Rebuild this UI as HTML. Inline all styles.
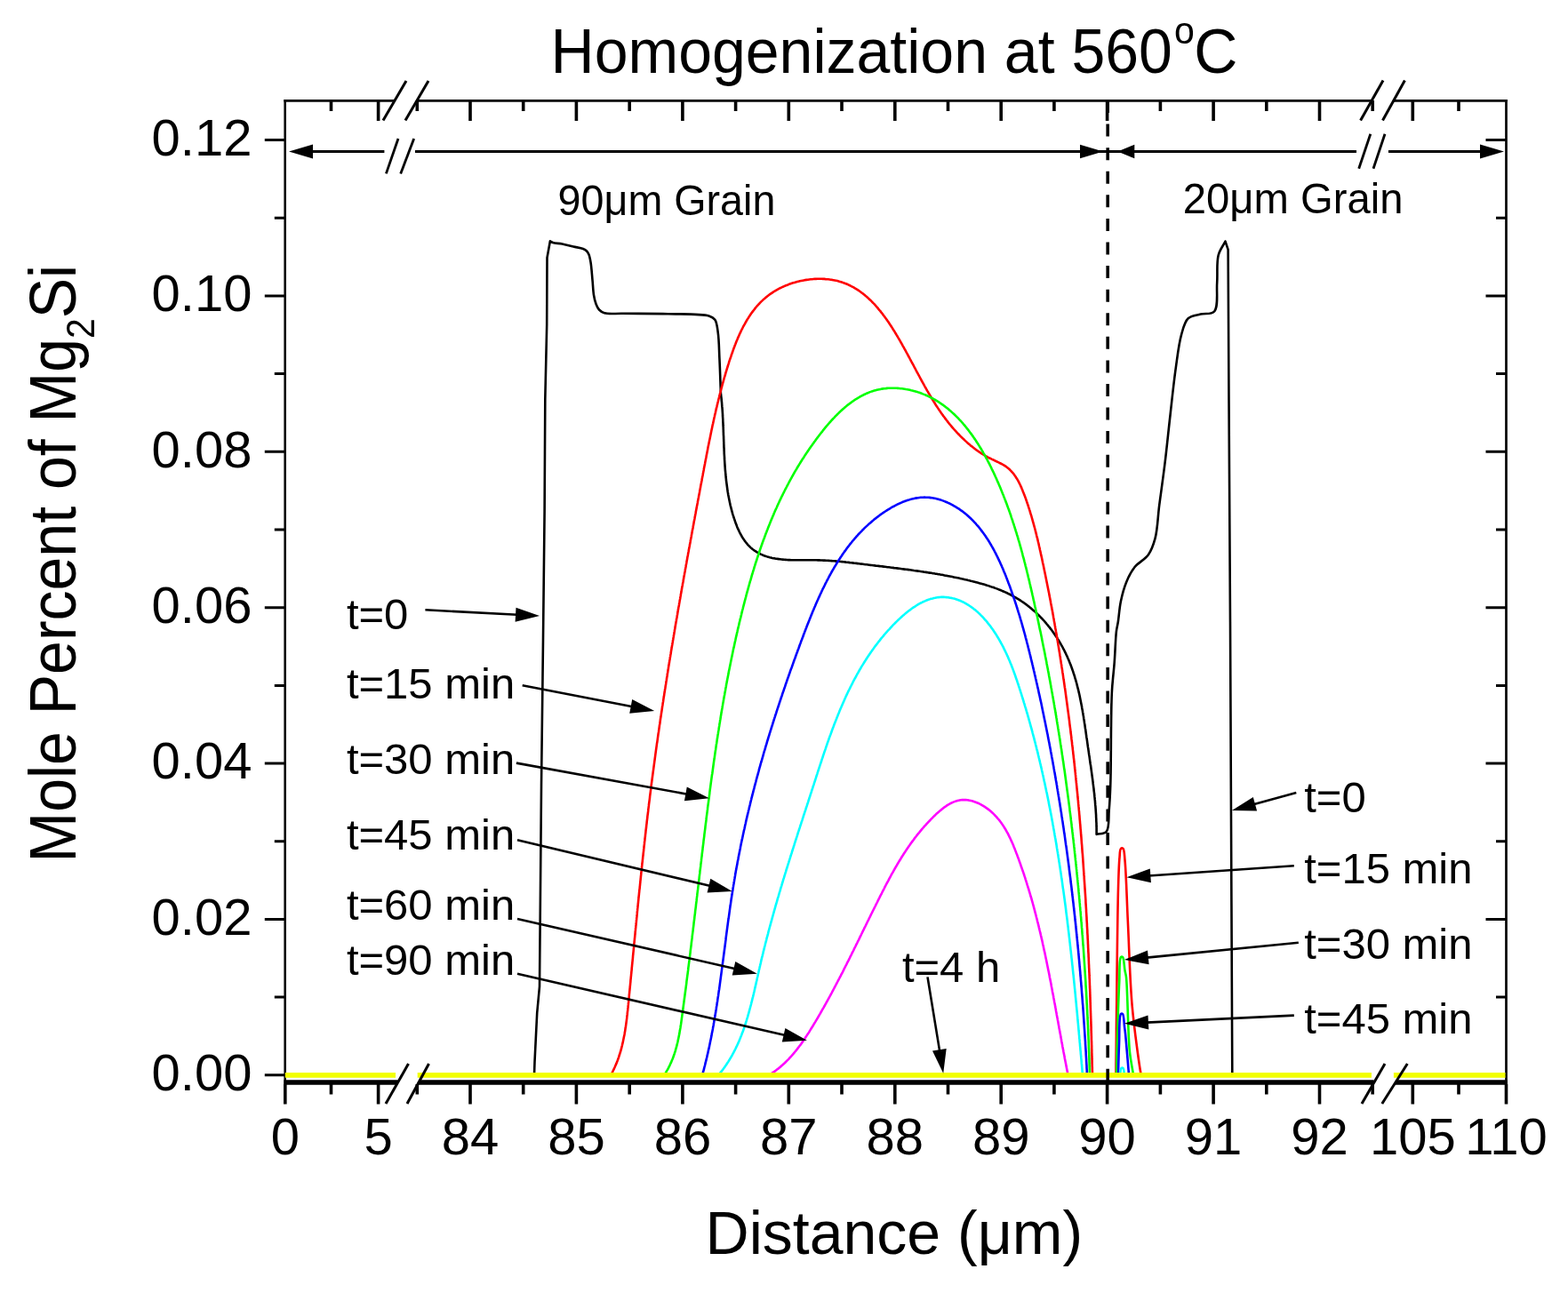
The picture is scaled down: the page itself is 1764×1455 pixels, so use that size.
<!DOCTYPE html>
<html><head><meta charset="utf-8"><title>Homogenization at 560°C</title>
<style>html,body{margin:0;padding:0;background:#fff;width:1764px;height:1455px;overflow:hidden}</style>
</head><body>
<svg width="1764" height="1455" viewBox="0 0 1764 1455" style="display:block">
<rect x="0" y="0" width="1764" height="1455" fill="#ffffff"/>
<g fill="none" stroke-linejoin="round" stroke-linecap="round" stroke-width="2.6">
<path d="M601.0,1210.0 L601.5,1195.0 L604.2,1140.0 L607.0,1110.0 L609.0,884.6 L611.0,720.0 L612.6,575.8 L613.3,449.5 L615.2,365.0 L615.5,290.0 L618.9,271.3 M618.9,271.3 C619.9,271.9 620.5,272.5 621.9,273.0 C624.3,273.8 628.8,273.8 632.5,274.5 C636.5,275.3 641.0,276.6 645.0,277.5 C648.8,278.4 653.3,278.9 656.0,280.0 C657.7,280.7 658.9,281.4 660.0,282.5 C661.1,283.6 661.8,284.8 662.5,286.5 C663.4,288.7 663.9,291.5 664.5,295.0 C665.4,300.2 665.9,308.6 666.5,315.0 C667.1,320.9 667.2,327.1 668.0,332.0 C668.6,335.8 669.4,339.1 670.5,342.0 C671.5,344.5 672.4,346.8 674.0,348.5 C675.6,350.2 677.3,351.5 680.0,352.3 C684.6,353.7 691.8,352.7 700.0,352.8 C713.2,353.0 734.9,352.7 751.6,353.2 C767.4,353.7 789.2,352.9 797.5,355.5 C801.0,356.6 802.6,357.4 804.3,359.7 C806.6,362.8 806.9,368.4 807.7,374.1 C808.9,382.0 808.9,392.6 809.4,403.0 C810.0,415.1 810.4,429.3 810.9,442.4 M810.9,442.4 L811.1,443.9 L811.2,445.3 L811.4,446.8 L811.6,448.3 L811.7,449.8 L811.8,451.3 L812.0,452.7 L812.1,454.2 L812.2,455.7 L812.3,457.2 L812.5,458.7 L812.6,460.2 L812.7,461.7 L812.8,463.2 L812.9,464.7 L813.0,466.2 L813.0,467.7 L813.1,469.2 L813.2,470.7 L813.3,472.2 L813.3,473.7 L813.4,475.2 L813.5,476.7 L813.5,478.2 L813.6,479.7 L813.7,481.2 L813.7,482.7 L813.8,484.2 L813.8,485.7 L813.9,487.2 L813.9,488.7 L814.0,490.2 L814.1,491.7 L814.1,493.2 L814.2,494.8 L814.2,496.3 L814.3,497.8 L814.3,499.3 L814.4,500.8 L814.4,502.3 L814.5,503.8 L814.6,505.3 L814.6,506.9 L814.7,508.4 L814.7,509.9 L814.8,511.4 L814.9,512.9 L815.0,514.4 L815.0,515.9 L815.1,517.4 L815.2,518.9 L815.3,520.5 L815.4,522.0 L815.5,523.5 L815.6,525.0 L815.7,526.5 L815.8,528.0 L815.9,529.5 L816.1,531.0 L816.2,532.5 L816.3,534.0 L816.5,535.5 L816.6,537.0 L816.8,538.5 L816.9,540.0 L817.1,541.5 L817.3,543.0 L817.5,544.5 L817.7,546.0 L817.9,547.5 L818.1,549.0 L818.3,550.5 L818.5,552.0 L818.7,553.5 L819.0,555.0 L819.2,556.5 L819.5,558.0 L819.8,559.4 L820.1,560.9 L820.4,562.4 L820.7,563.9 L821.0,565.4 L821.3,566.8 L821.6,568.3 L822.0,569.8 L822.4,571.3 L822.7,572.7 L823.1,574.2 L823.5,575.7 L823.9,577.1 L824.3,578.6 L824.8,580.0 L825.2,581.5 L825.7,582.9 L826.2,584.4 L826.7,585.8 L827.2,587.3 L827.7,588.7 L828.2,590.1 L828.8,591.6 L829.3,593.0 L829.9,594.4 L830.5,595.7 L831.2,597.1 L831.8,598.5 L832.5,599.8 L833.2,601.1 L833.9,602.4 L834.6,603.7 L835.4,605.0 L836.2,606.2 L837.0,607.4 L837.8,608.6 L838.7,609.8 L839.6,610.9 L840.5,612.0 L841.4,613.1 L842.4,614.1 L843.4,615.1 L844.4,616.1 L845.5,617.1 L846.6,618.0 L847.7,618.8 L848.9,619.7 L850.1,620.4 L851.3,621.2 L852.5,621.9 L853.8,622.6 L855.0,623.2 L856.3,623.9 L857.6,624.4 L859.0,625.0 L860.3,625.5 L861.7,625.9 L863.1,626.4 L864.5,626.8 L865.9,627.2 L867.3,627.5 L868.8,627.9 L870.2,628.2 L871.7,628.4 L873.2,628.7 L874.7,628.9 L876.2,629.1 L877.7,629.3 L879.2,629.5 L880.7,629.6 L882.3,629.8 L883.8,629.9 L885.4,630.0 L886.9,630.1 L888.5,630.1 L890.1,630.2 L891.7,630.2 L893.2,630.3 L894.8,630.3 L896.4,630.3 L898.0,630.3 L899.6,630.3 L901.2,630.3 L902.8,630.3 L904.4,630.3 L906.0,630.3 L907.6,630.3 L909.2,630.3 L910.7,630.3 L912.3,630.3 L913.9,630.3 L915.5,630.3 L917.1,630.3 L918.6,630.3 L920.2,630.4 L921.7,630.4 L923.3,630.5 L924.8,630.5 L926.4,630.6 L927.9,630.6 L929.4,630.7 L930.9,630.8 L932.4,630.9 L933.9,631.0 L935.4,631.1 L936.9,631.2 L938.4,631.3 L939.9,631.4 L941.4,631.6 L942.9,631.7 L944.4,631.8 L945.9,632.0 L947.3,632.1 L948.8,632.3 L950.3,632.4 L951.7,632.6 L953.2,632.7 L954.7,632.9 L956.1,633.1 L957.6,633.2 L959.0,633.4 L960.5,633.6 L961.9,633.7 L963.4,633.9 L964.9,634.1 L966.3,634.3 L967.8,634.5 L969.2,634.6 L970.7,634.8 L972.1,635.0 L973.6,635.2 L975.1,635.3 L976.5,635.5 L978.0,635.7 L979.4,635.9 L980.9,636.0 L982.4,636.2 L983.8,636.4 L985.3,636.6 L986.8,636.7 L988.2,636.9 L989.7,637.1 L991.2,637.3 L992.7,637.4 L994.1,637.6 L995.6,637.8 L997.1,638.0 L998.6,638.2 L1000.0,638.3 L1001.5,638.5 L1003.0,638.7 L1004.5,638.9 L1006.0,639.1 L1007.4,639.2 L1008.9,639.4 L1010.4,639.6 L1011.9,639.8 L1013.4,640.0 L1014.8,640.2 L1016.3,640.4 L1017.8,640.6 L1019.3,640.8 L1020.8,640.9 L1022.3,641.1 L1023.7,641.3 L1025.2,641.5 L1026.7,641.7 L1028.2,642.0 L1029.7,642.2 L1031.2,642.4 L1032.7,642.6 L1034.2,642.8 L1035.6,643.0 L1037.1,643.2 L1038.6,643.4 L1040.1,643.7 L1041.6,643.9 L1043.1,644.1 L1044.6,644.4 L1046.1,644.6 L1047.6,644.8 L1049.0,645.1 L1050.5,645.3 L1052.0,645.6 L1053.5,645.8 L1055.0,646.1 L1056.5,646.3 L1058.0,646.6 L1059.5,646.8 L1061.0,647.1 L1062.4,647.4 L1063.9,647.7 L1065.4,647.9 L1066.9,648.2 L1068.4,648.5 L1069.9,648.8 L1071.4,649.1 L1072.8,649.4 L1074.3,649.7 L1075.8,650.0 L1077.3,650.3 L1078.8,650.6 L1080.3,650.9 L1081.8,651.3 L1083.2,651.6 L1084.7,651.9 L1086.2,652.3 L1087.7,652.6 L1089.2,653.0 L1090.6,653.3 L1092.1,653.7 L1093.6,654.0 L1095.1,654.4 L1096.5,654.8 L1098.0,655.2 L1099.5,655.6 L1101.0,656.0 L1102.4,656.4 L1103.9,656.8 L1105.4,657.2 L1106.8,657.6 L1108.3,658.0 L1109.7,658.5 L1111.2,658.9 L1112.6,659.4 L1114.1,659.9 L1115.5,660.4 L1116.9,660.8 L1118.3,661.3 L1119.8,661.9 L1121.2,662.4 L1122.6,662.9 L1124.0,663.5 L1125.4,664.0 L1126.8,664.6 L1128.2,665.2 L1129.5,665.8 L1130.9,666.4 L1132.3,667.0 L1133.6,667.7 L1135.0,668.3 L1136.3,669.0 L1137.6,669.7 L1138.9,670.3 L1140.2,671.1 L1141.5,671.8 L1142.8,672.5 L1144.1,673.3 L1145.4,674.1 L1146.7,674.9 L1147.9,675.7 L1149.1,676.5 L1150.4,677.3 L1151.6,678.2 L1152.8,679.0 L1154.0,679.9 L1155.2,680.8 L1156.4,681.7 L1157.6,682.6 L1158.7,683.6 L1159.9,684.5 L1161.0,685.5 L1162.1,686.4 L1163.3,687.4 L1164.4,688.4 L1165.5,689.4 L1166.6,690.5 L1167.6,691.5 L1168.7,692.5 L1169.8,693.6 L1170.8,694.7 L1171.9,695.7 L1172.9,696.8 L1173.9,697.9 L1174.9,699.0 L1175.9,700.2 L1176.9,701.3 L1177.8,702.5 L1178.8,703.6 L1179.7,704.8 L1180.7,705.9 L1181.6,707.1 L1182.5,708.3 L1183.4,709.5 L1184.3,710.7 L1185.2,712.0 L1186.0,713.2 L1186.9,714.4 L1187.7,715.7 L1188.6,716.9 L1189.4,718.2 L1190.2,719.5 L1191.0,720.7 L1191.8,722.0 L1192.5,723.3 L1193.3,724.6 L1194.0,725.9 L1194.8,727.2 L1195.5,728.5 L1196.2,729.9 L1196.9,731.2 L1197.6,732.5 L1198.2,733.9 L1198.9,735.2 L1199.5,736.6 L1200.2,737.9 L1200.8,739.3 L1201.4,740.7 L1202.0,742.0 L1202.6,743.4 L1203.1,744.8 L1203.7,746.2 L1204.2,747.6 L1204.8,749.0 L1205.3,750.4 L1205.8,751.8 L1206.3,753.2 L1206.8,754.6 L1207.3,756.0 L1207.7,757.5 L1208.2,758.9 L1208.7,760.3 L1209.1,761.7 L1209.5,763.2 L1210.0,764.6 L1210.4,766.1 L1210.8,767.5 L1211.2,769.0 L1211.6,770.4 L1211.9,771.9 L1212.3,773.3 L1212.7,774.8 L1213.0,776.2 L1213.4,777.7 L1213.7,779.2 L1214.1,780.7 L1214.4,782.1 L1214.7,783.6 L1215.0,785.1 L1215.3,786.6 L1215.6,788.0 L1215.9,789.5 L1216.2,791.0 L1216.5,792.5 L1216.8,794.0 L1217.1,795.5 L1217.3,797.0 L1217.6,798.5 L1217.9,800.0 L1218.1,801.5 L1218.4,803.0 L1218.6,804.4 L1218.9,805.9 L1219.1,807.4 L1219.3,808.9 L1219.6,810.4 L1219.8,811.9 L1220.0,813.4 L1220.3,814.9 L1220.5,816.4 L1220.7,817.9 L1220.9,819.5 L1221.2,821.0 L1221.4,822.5 L1221.6,824.0 L1221.8,825.5 L1222.0,827.0 L1222.2,828.5 L1222.4,830.0 L1222.7,831.5 L1222.9,832.9 L1223.1,834.4 L1223.3,835.9 L1223.5,837.4 L1223.7,838.9 L1223.9,840.4 L1224.2,841.9 L1224.4,843.4 L1224.6,844.9 L1224.8,846.4 L1225.0,847.9 L1225.2,849.3 L1225.5,850.8 L1225.7,852.3 L1225.9,853.8 L1226.1,855.3 L1226.3,856.8 L1226.5,858.2 L1226.7,859.7 L1227.0,861.2 L1227.2,862.7 L1227.4,864.2 L1227.6,865.6 L1227.8,867.1 L1228.0,868.6 L1228.2,870.1 L1228.4,871.6 L1228.6,873.0 L1228.8,874.5 L1229.0,876.0 L1229.2,877.5 L1229.4,879.0 L1229.6,880.4 L1229.7,881.9 L1229.9,883.4 L1230.1,884.9 L1230.3,886.4 L1230.5,887.8 L1230.6,889.3 L1230.8,890.8 L1231.0,892.3 L1231.1,893.8 L1231.3,895.2 L1231.4,896.7 L1231.6,898.2 L1231.7,899.7 L1231.9,901.2 L1232.0,902.7 L1232.1,904.2 L1232.2,905.7 L1232.4,907.1 L1232.5,908.6 L1232.6,910.1 L1232.7,911.6 L1232.8,913.1 L1232.9,914.6 L1233.0,916.1 L1233.1,917.6 L1233.1,919.1 L1233.2,920.6 L1233.3,922.1 L1233.3,923.6 L1233.4,925.1 L1233.5,926.6 L1233.5,928.2 L1233.5,929.7 L1233.6,931.2 L1233.6,932.7 L1233.6,934.2 L1233.6,935.8 L1233.6,937.3 L1233.6,938.8 M1233.6,938.8 C1237.3,937.8 1242.2,938.6 1244.7,935.8 C1248.3,931.7 1246.9,920.1 1247.7,911.6 C1248.5,902.2 1248.9,894.7 1249.3,881.8 C1250.1,858.0 1249.6,805.0 1250.8,780.0 C1251.5,765.4 1252.9,757.1 1253.7,745.5 C1254.6,733.8 1254.9,718.5 1255.9,710.3 C1256.5,705.8 1257.1,704.1 1257.8,700.0 C1258.8,693.8 1259.3,684.3 1260.9,676.8 C1262.4,669.4 1264.4,661.8 1267.1,655.2 C1269.6,649.0 1272.4,643.3 1276.4,638.2 C1280.6,632.9 1288.0,629.8 1291.9,624.3 C1295.7,618.9 1297.6,613.1 1299.6,605.7 C1302.3,595.6 1302.5,581.7 1304.2,568.6 C1306.1,554.0 1308.4,538.4 1310.4,522.2 C1312.6,504.5 1314.5,484.8 1316.6,466.5 C1318.6,448.7 1320.5,429.9 1322.8,413.9 C1324.7,400.4 1326.1,386.9 1329.0,376.8 C1331.1,369.4 1332.6,362.1 1336.7,358.3 C1340.2,355.0 1345.8,354.9 1350.6,353.6 C1355.6,352.3 1362.8,354.2 1366.1,350.5 C1370.9,345.2 1368.4,328.7 1369.2,318.0 C1369.9,307.6 1368.5,295.4 1370.7,287.1 C1372.3,280.9 1375.9,276.8 1378.5,271.7 M1378.5,271.7 L1381.6,280.9 L1382.5,450.0 L1384.0,700.0 L1386.3,1210.0" stroke="#000"/>
<path d="M687.0,1210.0 L687.8,1208.7 L688.5,1207.4 L689.2,1206.0 L689.8,1204.7 L690.5,1203.4 L691.1,1202.0 L691.7,1200.7 L692.3,1199.3 L692.9,1197.9 L693.5,1196.6 L694.0,1195.2 L694.6,1193.8 L695.1,1192.4 L695.6,1191.0 L696.1,1189.6 L696.5,1188.2 L697.0,1186.8 L697.4,1185.4 L697.9,1184.0 L698.3,1182.6 L698.7,1181.1 L699.1,1179.7 L699.4,1178.3 L699.8,1176.8 L700.1,1175.4 L700.5,1173.9 L700.8,1172.5 L701.1,1171.0 L701.4,1169.6 L701.7,1168.1 L702.0,1166.6 L702.3,1165.2 L702.6,1163.7 L702.8,1162.2 L703.1,1160.8 L703.3,1159.3 L703.5,1157.8 L703.8,1156.3 L704.0,1154.8 L704.2,1153.3 L704.4,1151.9 L704.6,1150.4 L704.8,1148.9 L705.0,1147.4 L705.2,1145.9 L705.3,1144.4 L705.5,1142.9 L705.7,1141.4 L705.8,1139.9 L706.0,1138.4 L706.2,1136.9 L706.3,1135.4 L706.5,1133.9 L706.6,1132.4 L706.8,1130.9 L706.9,1129.4 L707.1,1127.9 L707.2,1126.3 L707.4,1124.8 L707.5,1123.3 L707.7,1121.8 L707.8,1120.3 L707.9,1118.8 L708.1,1117.3 L708.2,1115.8 L708.4,1114.3 L708.5,1112.8 L708.7,1111.3 L708.8,1109.8 L709.0,1108.3 L709.1,1106.8 L709.3,1105.3 L709.4,1103.8 L709.5,1102.3 L709.7,1100.8 L709.8,1099.3 L710.0,1097.8 L710.1,1096.3 L710.3,1094.8 L710.4,1093.3 L710.6,1091.8 L710.7,1090.3 L710.8,1088.8 L711.0,1087.3 L711.1,1085.8 L711.3,1084.3 L711.4,1082.8 L711.6,1081.3 L711.7,1079.8 L711.9,1078.3 L712.0,1076.8 L712.1,1075.3 L712.3,1073.8 L712.4,1072.3 L712.6,1070.8 L712.7,1069.3 L712.9,1067.8 L713.0,1066.3 L713.2,1064.8 L713.3,1063.3 L713.4,1061.8 L713.6,1060.3 L713.7,1058.8 L713.9,1057.3 L714.0,1055.8 L714.2,1054.3 L714.3,1052.8 L714.5,1051.3 L714.6,1049.8 L714.7,1048.3 L714.9,1046.9 L715.0,1045.4 L715.2,1043.9 L715.3,1042.4 L715.5,1040.9 L715.6,1039.4 L715.8,1037.9 L715.9,1036.4 L716.1,1034.9 L716.2,1033.4 L716.4,1031.9 L716.5,1030.4 L716.7,1028.9 L716.8,1027.4 L716.9,1025.9 L717.1,1024.4 L717.2,1022.9 L717.4,1021.4 L717.5,1020.0 L717.7,1018.5 L717.8,1017.0 L718.0,1015.5 L718.1,1014.0 L718.3,1012.5 L718.4,1011.0 L718.6,1009.5 L718.7,1008.0 L718.9,1006.5 L719.0,1005.0 L719.2,1003.5 L719.3,1002.0 L719.5,1000.6 L719.7,999.1 L719.8,997.6 L720.0,996.1 L720.1,994.6 L720.3,993.1 L720.4,991.6 L720.6,990.1 L720.7,988.6 L720.9,987.1 L721.0,985.6 L721.2,984.2 L721.3,982.7 L721.5,981.2 L721.7,979.7 L721.8,978.2 L722.0,976.7 L722.1,975.2 L722.3,973.7 L722.4,972.2 L722.6,970.7 L722.8,969.3 L722.9,967.8 L723.1,966.3 L723.2,964.8 L723.4,963.3 L723.6,961.8 L723.7,960.3 L723.9,958.8 L724.1,957.3 L724.2,955.8 L724.4,954.4 L724.5,952.9 L724.7,951.4 L724.9,949.9 L725.0,948.4 L725.2,946.9 L725.4,945.4 L725.5,943.9 L725.7,942.4 L725.9,941.0 L726.0,939.5 L726.2,938.0 L726.4,936.5 L726.5,935.0 L726.7,933.5 L726.9,932.0 L727.1,930.5 L727.2,929.1 L727.4,927.6 L727.6,926.1 L727.7,924.6 L727.9,923.1 L728.1,921.6 L728.3,920.1 L728.4,918.6 L728.6,917.1 L728.8,915.7 L729.0,914.2 L729.2,912.7 L729.3,911.2 L729.5,909.7 L729.7,908.2 L729.9,906.7 L730.0,905.2 L730.2,903.8 L730.4,902.3 L730.6,900.8 L730.8,899.3 L731.0,897.8 L731.1,896.3 L731.3,894.8 L731.5,893.3 L731.7,891.9 L731.9,890.4 L732.1,888.9 L732.3,887.4 L732.5,885.9 L732.6,884.4 L732.8,882.9 L733.0,881.4 L733.2,880.0 L733.4,878.5 L733.6,877.0 L733.8,875.5 L734.0,874.0 L734.2,872.5 L734.4,871.0 L734.6,869.5 L734.8,868.0 L735.0,866.6 L735.2,865.1 L735.4,863.6 L735.6,862.1 L735.8,860.6 L736.0,859.1 L736.2,857.6 L736.4,856.1 L736.6,854.7 L736.8,853.2 L737.0,851.7 L737.2,850.2 L737.4,848.7 L737.6,847.2 L737.8,845.7 L738.0,844.2 L738.2,842.8 L738.4,841.3 L738.6,839.8 L738.8,838.3 L739.0,836.8 L739.3,835.3 L739.5,833.8 L739.7,832.3 L739.9,830.9 L740.1,829.4 L740.3,827.9 L740.5,826.4 L740.7,824.9 L741.0,823.4 L741.2,821.9 L741.4,820.4 L741.6,819.0 L741.8,817.5 L742.0,816.0 L742.3,814.5 L742.5,813.0 L742.7,811.5 L742.9,810.0 L743.1,808.5 L743.4,807.1 L743.6,805.6 L743.8,804.1 L744.0,802.6 L744.3,801.1 L744.5,799.6 L744.7,798.1 L744.9,796.7 L745.1,795.2 L745.4,793.7 L745.6,792.2 L745.8,790.7 L746.1,789.2 L746.3,787.7 L746.5,786.2 L746.7,784.8 L747.0,783.3 L747.2,781.8 L747.4,780.3 L747.7,778.8 L747.9,777.3 L748.1,775.8 L748.4,774.4 L748.6,772.9 L748.8,771.4 L749.1,769.9 L749.3,768.4 L749.5,766.9 L749.8,765.4 L750.0,764.0 L750.2,762.5 L750.5,761.0 L750.7,759.5 L750.9,758.0 L751.2,756.5 L751.4,755.0 L751.7,753.6 L751.9,752.1 L752.1,750.6 L752.4,749.1 L752.6,747.6 L752.9,746.1 L753.1,744.6 L753.3,743.2 L753.6,741.7 L753.8,740.2 L754.1,738.7 L754.3,737.2 L754.6,735.7 L754.8,734.3 L755.0,732.8 L755.3,731.3 L755.5,729.8 L755.8,728.3 L756.0,726.8 L756.3,725.4 L756.5,723.9 L756.8,722.4 L757.0,720.9 L757.3,719.4 L757.5,717.9 L757.8,716.4 L758.0,715.0 L758.3,713.5 L758.5,712.0 L758.8,710.5 L759.0,709.0 L759.3,707.5 L759.5,706.1 L759.8,704.6 L760.0,703.1 L760.3,701.6 L760.5,700.1 L760.8,698.7 L761.0,697.2 L761.3,695.7 L761.6,694.2 L761.8,692.7 L762.1,691.2 L762.3,689.8 L762.6,688.3 L762.8,686.8 L763.1,685.3 L763.3,683.8 L763.6,682.4 L763.9,680.9 L764.1,679.4 L764.4,677.9 L764.6,676.4 L764.9,675.0 L765.2,673.5 L765.4,672.0 L765.7,670.5 L765.9,669.0 L766.2,667.5 L766.5,666.1 L766.7,664.6 L767.0,663.1 L767.2,661.6 L767.5,660.1 L767.8,658.7 L768.0,657.2 L768.3,655.7 L768.6,654.2 L768.8,652.8 L769.1,651.3 L769.3,649.8 L769.6,648.3 L769.9,646.8 L770.1,645.4 L770.4,643.9 L770.7,642.4 L770.9,640.9 L771.2,639.4 L771.5,638.0 L771.7,636.5 L772.0,635.0 L772.3,633.5 L772.5,632.1 L772.8,630.6 L773.1,629.1 L773.3,627.6 L773.6,626.1 L773.9,624.7 L774.1,623.2 L774.4,621.7 L774.7,620.2 L774.9,618.8 L775.2,617.3 L775.5,615.8 L775.8,614.3 L776.0,612.9 L776.3,611.4 L776.6,609.9 L776.8,608.4 L777.1,607.0 L777.4,605.5 L777.7,604.0 L777.9,602.5 L778.2,601.1 L778.5,599.6 L778.7,598.1 L779.0,596.6 L779.3,595.2 L779.6,593.7 L779.8,592.2 L780.1,590.7 L780.4,589.3 L780.6,587.8 L780.9,586.3 L781.2,584.9 L781.5,583.4 L781.7,581.9 L782.0,580.4 L782.3,579.0 L782.6,577.5 L782.8,576.0 L783.1,574.5 L783.4,573.1 L783.7,571.6 L783.9,570.1 L784.2,568.7 L784.5,567.2 L784.8,565.7 L785.0,564.2 L785.3,562.8 L785.6,561.3 L785.9,559.8 L786.1,558.4 L786.4,556.9 L786.7,555.4 L787.0,554.0 L787.2,552.5 L787.5,551.0 L787.8,549.6 L788.1,548.1 L788.3,546.6 L788.6,545.1 L788.9,543.7 L789.2,542.2 L789.5,540.7 L789.7,539.3 L790.0,537.8 L790.3,536.3 L790.6,534.9 L790.8,533.4 L791.1,531.9 L791.4,530.5 L791.7,529.0 L791.9,527.5 L792.2,526.1 L792.5,524.6 L792.8,523.1 L793.1,521.7 L793.3,520.2 L793.6,518.7 L793.9,517.3 L794.2,515.8 L794.5,514.3 L794.7,512.9 L795.0,511.4 L795.3,510.0 L795.6,508.5 L795.9,507.0 L796.2,505.6 L796.4,504.1 L796.7,502.6 L797.0,501.2 L797.3,499.7 L797.6,498.2 L797.9,496.8 L798.2,495.3 L798.5,493.9 L798.8,492.4 L799.1,490.9 L799.4,489.5 L799.7,488.0 L800.0,486.5 L800.3,485.1 L800.6,483.6 L800.9,482.2 L801.2,480.7 L801.5,479.2 L801.8,477.8 L802.2,476.3 L802.5,474.8 L802.8,473.4 L803.1,471.9 L803.4,470.5 L803.8,469.0 L804.1,467.5 L804.4,466.1 L804.8,464.6 L805.1,463.2 L805.4,461.7 L805.8,460.2 L806.1,458.8 L806.5,457.3 L806.8,455.9 L807.2,454.4 L807.5,452.9 L807.9,451.5 L808.2,450.0 L808.6,448.6 L809.0,447.1 L809.3,445.6 L809.7,444.2 L810.1,442.7 L810.5,441.3 L810.8,439.8 L811.2,438.3 L811.6,436.9 L812.0,435.4 L812.4,434.0 L812.8,432.5 L813.2,431.0 L813.6,429.6 L814.0,428.1 L814.4,426.6 L814.8,425.2 L815.3,423.7 L815.7,422.3 L816.1,420.8 L816.5,419.3 L817.0,417.9 L817.4,416.4 L817.9,415.0 L818.3,413.5 L818.8,412.0 L819.2,410.6 L819.7,409.1 L820.1,407.7 L820.6,406.2 L821.1,404.7 L821.6,403.3 L822.1,401.8 L822.6,400.4 L823.0,398.9 L823.6,397.5 L824.1,396.0 L824.6,394.6 L825.1,393.1 L825.6,391.7 L826.2,390.2 L826.7,388.8 L827.3,387.4 L827.8,386.0 L828.4,384.5 L829.0,383.1 L829.6,381.7 L830.1,380.3 L830.8,378.9 L831.4,377.5 L832.0,376.1 L832.6,374.8 L833.3,373.4 L833.9,372.0 L834.6,370.7 L835.3,369.3 L835.9,368.0 L836.6,366.7 L837.4,365.4 L838.1,364.1 L838.8,362.8 L839.6,361.5 L840.3,360.2 L841.1,358.9 L841.9,357.7 L842.7,356.4 L843.5,355.2 L844.3,354.0 L845.1,352.8 L846.0,351.6 L846.9,350.4 L847.8,349.2 L848.7,348.1 L849.6,346.9 L850.5,345.8 L851.4,344.7 L852.4,343.6 L853.4,342.5 L854.4,341.5 L855.4,340.4 L856.4,339.4 L857.5,338.4 L858.5,337.4 L859.6,336.4 L860.7,335.5 L861.8,334.5 L863.0,333.6 L864.1,332.7 L865.3,331.8 L866.5,330.9 L867.7,330.1 L868.9,329.3 L870.2,328.4 L871.5,327.7 L872.8,326.9 L874.1,326.1 L875.4,325.4 L876.7,324.7 L878.1,324.0 L879.4,323.4 L880.8,322.7 L882.2,322.1 L883.6,321.5 L885.0,320.9 L886.5,320.4 L887.9,319.8 L889.4,319.3 L890.8,318.8 L892.3,318.3 L893.8,317.9 L895.3,317.5 L896.8,317.1 L898.3,316.7 L899.8,316.3 L901.3,316.0 L902.8,315.7 L904.3,315.4 L905.8,315.1 L907.4,314.9 L908.9,314.7 L910.4,314.5 L912.0,314.3 L913.5,314.2 L915.0,314.0 L916.6,313.9 L918.1,313.9 L919.6,313.8 L921.2,313.8 L922.7,313.8 L924.2,313.8 L925.7,313.9 L927.2,313.9 L928.8,314.1 L930.3,314.2 L931.8,314.3 L933.2,314.5 L934.7,314.7 L936.2,314.9 L937.7,315.2 L939.1,315.5 L940.6,315.8 L942.0,316.1 L943.4,316.5 L944.8,316.9 L946.2,317.3 L947.6,317.8 L949.0,318.2 L950.3,318.7 L951.7,319.2 L953.0,319.8 L954.3,320.4 L955.6,321.0 L956.9,321.6 L958.2,322.3 L959.4,322.9 L960.7,323.6 L961.9,324.4 L963.1,325.1 L964.4,325.9 L965.6,326.7 L966.8,327.5 L967.9,328.3 L969.1,329.2 L970.2,330.0 L971.4,330.9 L972.5,331.8 L973.6,332.8 L974.8,333.7 L975.9,334.7 L976.9,335.7 L978.0,336.7 L979.1,337.7 L980.1,338.7 L981.2,339.8 L982.2,340.9 L983.3,341.9 L984.3,343.0 L985.3,344.2 L986.3,345.3 L987.3,346.4 L988.2,347.6 L989.2,348.8 L990.2,349.9 L991.1,351.1 L992.1,352.3 L993.0,353.5 L993.9,354.8 L994.9,356.0 L995.8,357.3 L996.7,358.5 L997.6,359.8 L998.5,361.1 L999.4,362.3 L1000.2,363.6 L1001.1,364.9 L1002.0,366.2 L1002.8,367.5 L1003.7,368.9 L1004.5,370.2 L1005.3,371.5 L1006.2,372.8 L1007.0,374.2 L1007.8,375.5 L1008.6,376.9 L1009.4,378.2 L1010.2,379.6 L1011.0,380.9 L1011.8,382.3 L1012.6,383.6 L1013.3,385.0 L1014.1,386.3 L1014.9,387.7 L1015.6,389.1 L1016.4,390.4 L1017.2,391.8 L1017.9,393.1 L1018.7,394.5 L1019.4,395.9 L1020.1,397.2 L1020.9,398.6 L1021.6,399.9 L1022.3,401.3 L1023.1,402.6 L1023.8,404.0 L1024.5,405.3 L1025.2,406.7 L1025.9,408.0 L1026.7,409.4 L1027.4,410.7 L1028.1,412.0 L1028.8,413.4 L1029.5,414.7 L1030.2,416.0 L1030.9,417.4 L1031.6,418.7 L1032.4,420.0 L1033.1,421.4 L1033.8,422.7 L1034.5,424.0 L1035.2,425.3 L1035.9,426.6 L1036.6,427.9 L1037.3,429.3 L1038.1,430.6 L1038.8,431.9 L1039.5,433.2 L1040.2,434.5 L1040.9,435.8 L1041.7,437.0 L1042.4,438.3 L1043.1,439.6 L1043.9,440.9 L1044.6,442.2 L1045.4,443.4 L1046.1,444.7 L1046.9,446.0 L1047.6,447.2 L1048.4,448.5 L1049.1,449.8 L1049.9,451.0 L1050.7,452.3 L1051.5,453.5 L1052.2,454.7 L1053.0,456.0 L1053.8,457.2 L1054.6,458.4 L1055.4,459.6 L1056.3,460.9 L1057.1,462.1 L1057.9,463.3 L1058.7,464.5 L1059.6,465.7 L1060.4,466.9 L1061.3,468.1 L1062.2,469.2 L1063.0,470.4 L1063.9,471.6 L1064.8,472.8 L1065.7,473.9 L1066.6,475.1 L1067.5,476.2 L1068.4,477.4 L1069.4,478.5 L1070.3,479.6 L1071.3,480.8 L1072.2,481.9 L1073.2,483.0 L1074.2,484.1 L1075.2,485.2 L1076.2,486.3 L1077.2,487.4 L1078.3,488.5 L1079.3,489.5 L1080.3,490.6 L1081.4,491.7 L1082.5,492.7 L1083.6,493.8 L1084.7,494.8 L1085.8,495.9 L1086.9,496.9 L1088.0,497.9 L1089.2,498.9 L1090.4,499.9 L1091.5,500.9 L1092.7,501.9 L1093.9,502.8 L1095.1,503.8 L1096.3,504.7 L1097.6,505.7 L1098.8,506.6 L1100.1,507.5 L1101.3,508.3 L1102.6,509.2 L1103.9,510.1 L1105.2,510.9 L1106.5,511.7 L1107.9,512.5 L1109.2,513.3 L1110.6,514.0 L1111.9,514.8 L1113.3,515.5 L1114.7,516.2 L1116.1,516.9 L1117.5,517.5 L1118.9,518.2 L1120.2,518.8 L1121.6,519.5 L1123.0,520.1 L1124.4,520.8 L1125.7,521.5 L1127.0,522.2 L1128.3,522.9 L1129.6,523.6 L1130.8,524.4 L1132.0,525.2 L1133.1,526.0 L1134.2,526.9 L1135.2,527.8 L1136.3,528.8 L1137.3,529.8 L1138.2,530.8 L1139.1,531.8 L1140.0,532.9 L1140.9,534.0 L1141.7,535.2 L1142.5,536.3 L1143.2,537.5 L1144.0,538.7 L1144.7,539.9 L1145.4,541.1 L1146.1,542.4 L1146.7,543.7 L1147.4,545.0 L1148.0,546.3 L1148.6,547.6 L1149.2,548.9 L1149.7,550.3 L1150.3,551.6 L1150.8,553.0 L1151.4,554.4 L1151.9,555.7 L1152.4,557.1 L1153.0,558.5 L1153.5,559.9 L1154.0,561.3 L1154.5,562.7 L1155.0,564.1 L1155.4,565.5 L1155.9,566.9 L1156.4,568.3 L1156.9,569.7 L1157.3,571.1 L1157.8,572.5 L1158.2,573.9 L1158.7,575.3 L1159.1,576.8 L1159.5,578.2 L1160.0,579.6 L1160.4,581.0 L1160.8,582.5 L1161.2,583.9 L1161.6,585.4 L1162.0,586.8 L1162.4,588.2 L1162.8,589.7 L1163.2,591.1 L1163.6,592.6 L1164.0,594.0 L1164.4,595.5 L1164.8,597.0 L1165.1,598.4 L1165.5,599.9 L1165.9,601.3 L1166.2,602.8 L1166.6,604.3 L1167.0,605.7 L1167.3,607.2 L1167.7,608.7 L1168.0,610.1 L1168.4,611.6 L1168.7,613.1 L1169.0,614.6 L1169.4,616.0 L1169.7,617.5 L1170.0,619.0 L1170.4,620.5 L1170.7,621.9 L1171.0,623.4 L1171.3,624.9 L1171.7,626.4 L1172.0,627.8 L1172.3,629.3 L1172.6,630.8 L1172.9,632.3 L1173.2,633.8 L1173.6,635.2 L1173.9,636.7 L1174.2,638.2 L1174.5,639.7 L1174.8,641.2 L1175.1,642.7 L1175.4,644.1 L1175.7,645.6 L1176.0,647.1 L1176.3,648.6 L1176.6,650.1 L1176.9,651.5 L1177.2,653.0 L1177.5,654.5 L1177.8,656.0 L1178.1,657.5 L1178.4,658.9 L1178.7,660.4 L1179.0,661.9 L1179.3,663.4 L1179.6,664.9 L1179.9,666.4 L1180.2,667.8 L1180.4,669.3 L1180.7,670.8 L1181.0,672.3 L1181.3,673.8 L1181.6,675.2 L1181.9,676.7 L1182.1,678.2 L1182.4,679.7 L1182.7,681.2 L1183.0,682.7 L1183.2,684.1 L1183.5,685.6 L1183.8,687.1 L1184.1,688.6 L1184.3,690.1 L1184.6,691.6 L1184.9,693.0 L1185.1,694.5 L1185.4,696.0 L1185.7,697.5 L1185.9,699.0 L1186.2,700.5 L1186.5,701.9 L1186.7,703.4 L1187.0,704.9 L1187.2,706.4 L1187.5,707.9 L1187.8,709.4 L1188.0,710.8 L1188.3,712.3 L1188.5,713.8 L1188.8,715.3 L1189.0,716.8 L1189.3,718.3 L1189.5,719.7 L1189.8,721.2 L1190.0,722.7 L1190.3,724.2 L1190.5,725.7 L1190.8,727.2 L1191.0,728.6 L1191.2,730.1 L1191.5,731.6 L1191.7,733.1 L1192.0,734.6 L1192.2,736.1 L1192.4,737.5 L1192.7,739.0 L1192.9,740.5 L1193.1,742.0 L1193.4,743.5 L1193.6,745.0 L1193.8,746.5 L1194.1,747.9 L1194.3,749.4 L1194.5,750.9 L1194.8,752.4 L1195.0,753.9 L1195.2,755.4 L1195.4,756.9 L1195.7,758.3 L1195.9,759.8 L1196.1,761.3 L1196.3,762.8 L1196.5,764.3 L1196.8,765.8 L1197.0,767.3 L1197.2,768.7 L1197.4,770.2 L1197.6,771.7 L1197.8,773.2 L1198.1,774.7 L1198.3,776.2 L1198.5,777.7 L1198.7,779.1 L1198.9,780.6 L1199.1,782.1 L1199.3,783.6 L1199.5,785.1 L1199.7,786.6 L1199.9,788.1 L1200.1,789.5 L1200.3,791.0 L1200.5,792.5 L1200.7,794.0 L1200.9,795.5 L1201.1,797.0 L1201.3,798.5 L1201.5,800.0 L1201.7,801.4 L1201.9,802.9 L1202.1,804.4 L1202.3,805.9 L1202.5,807.4 L1202.7,808.9 L1202.9,810.4 L1203.1,811.9 L1203.2,813.3 L1203.4,814.8 L1203.6,816.3 L1203.8,817.8 L1204.0,819.3 L1204.2,820.8 L1204.4,822.3 L1204.5,823.8 L1204.7,825.2 L1204.9,826.7 L1205.1,828.2 L1205.3,829.7 L1205.4,831.2 L1205.6,832.7 L1205.8,834.2 L1206.0,835.7 L1206.1,837.2 L1206.3,838.6 L1206.5,840.1 L1206.7,841.6 L1206.8,843.1 L1207.0,844.6 L1207.2,846.1 L1207.3,847.6 L1207.5,849.1 L1207.7,850.6 L1207.8,852.0 L1208.0,853.5 L1208.2,855.0 L1208.3,856.5 L1208.5,858.0 L1208.7,859.5 L1208.8,861.0 L1209.0,862.5 L1209.1,864.0 L1209.3,865.5 L1209.5,866.9 L1209.6,868.4 L1209.8,869.9 L1209.9,871.4 L1210.1,872.9 L1210.2,874.4 L1210.4,875.9 L1210.5,877.4 L1210.7,878.9 L1210.8,880.4 L1211.0,881.8 L1211.1,883.3 L1211.3,884.8 L1211.4,886.3 L1211.6,887.8 L1211.7,889.3 L1211.9,890.8 L1212.0,892.3 L1212.2,893.8 L1212.3,895.3 L1212.4,896.8 L1212.6,898.2 L1212.7,899.7 L1212.9,901.2 L1213.0,902.7 L1213.1,904.2 L1213.3,905.7 L1213.4,907.2 L1213.6,908.7 L1213.7,910.2 L1213.8,911.7 L1214.0,913.2 L1214.1,914.7 L1214.2,916.1 L1214.4,917.6 L1214.5,919.1 L1214.6,920.6 L1214.7,922.1 L1214.9,923.6 L1215.0,925.1 L1215.1,926.6 L1215.3,928.1 L1215.4,929.6 L1215.5,931.1 L1215.6,932.6 L1215.8,934.1 L1215.9,935.6 L1216.0,937.0 L1216.1,938.5 L1216.2,940.0 L1216.4,941.5 L1216.5,943.0 L1216.6,944.5 L1216.7,946.0 L1216.8,947.5 L1216.9,949.0 L1217.1,950.5 L1217.2,952.0 L1217.3,953.5 L1217.4,955.0 L1217.5,956.5 L1217.6,958.0 L1217.7,959.5 L1217.9,960.9 L1218.0,962.4 L1218.1,963.9 L1218.2,965.4 L1218.3,966.9 L1218.4,968.4 L1218.5,969.9 L1218.6,971.4 L1218.7,972.9 L1218.8,974.4 L1218.9,975.9 L1219.0,977.4 L1219.1,978.9 L1219.2,980.4 L1219.3,981.9 L1219.4,983.4 L1219.5,984.9 L1219.7,986.4 L1219.7,987.9 L1219.8,989.3 L1219.9,990.8 L1220.0,992.3 L1220.1,993.8 L1220.2,995.3 L1220.3,996.8 L1220.4,998.3 L1220.5,999.8 L1220.6,1001.3 L1220.7,1002.8 L1220.8,1004.3 L1220.9,1005.8 L1221.0,1007.3 L1221.1,1008.8 L1221.2,1010.3 L1221.3,1011.8 L1221.4,1013.3 L1221.4,1014.8 L1221.5,1016.3 L1221.6,1017.8 L1221.7,1019.3 L1221.8,1020.8 L1221.9,1022.3 L1222.0,1023.8 L1222.0,1025.3 L1222.1,1026.8 L1222.2,1028.3 L1222.3,1029.8 L1222.4,1031.3 L1222.5,1032.8 L1222.5,1034.3 L1222.6,1035.7 L1222.7,1037.2 L1222.8,1038.7 L1222.9,1040.2 L1222.9,1041.7 L1223.0,1043.2 L1223.1,1044.7 L1223.2,1046.2 L1223.3,1047.7 L1223.3,1049.2 L1223.4,1050.7 L1223.5,1052.2 L1223.6,1053.7 L1223.6,1055.2 L1223.7,1056.7 L1223.8,1058.2 L1223.9,1059.7 L1223.9,1061.2 L1224.0,1062.7 L1224.1,1064.2 L1224.1,1065.7 L1224.2,1067.2 L1224.3,1068.7 L1224.3,1070.2 L1224.4,1071.7 L1224.5,1073.2 L1224.6,1074.7 L1224.6,1076.2 L1224.7,1077.7 L1224.8,1079.2 L1224.8,1080.7 L1224.9,1082.2 L1224.9,1083.7 L1225.0,1085.2 L1225.1,1086.7 L1225.1,1088.2 L1225.2,1089.7 L1225.3,1091.2 L1225.3,1092.7 L1225.4,1094.2 L1225.5,1095.7 L1225.5,1097.2 L1225.6,1098.7 L1225.6,1100.2 L1225.7,1101.7 L1225.8,1103.2 L1225.8,1104.7 L1225.9,1106.2 L1225.9,1107.7 L1226.0,1109.2 L1226.0,1110.7 L1226.1,1112.2 L1226.2,1113.7 L1226.2,1115.2 L1226.3,1116.7 L1226.3,1118.2 L1226.4,1119.7 L1226.4,1121.2 L1226.5,1122.7 L1226.5,1124.3 L1226.6,1125.8 L1226.6,1127.3 L1226.7,1128.8 L1226.7,1130.3 L1226.8,1131.8 L1226.8,1133.3 L1226.9,1134.8 L1226.9,1136.3 L1227.0,1137.8 L1227.0,1139.3 L1227.1,1140.8 L1227.1,1142.3 L1227.2,1143.8 L1227.2,1145.3 L1227.3,1146.8 L1227.3,1148.3 L1227.4,1149.8 L1227.4,1151.3 L1227.5,1152.8 L1227.5,1154.3 L1227.6,1155.8 L1227.6,1157.3 L1227.6,1158.8 L1227.7,1160.3 L1227.7,1161.8 L1227.8,1163.3 L1227.8,1164.8 L1227.9,1166.3 L1227.9,1167.9 L1227.9,1169.4 L1228.0,1170.9 L1228.0,1172.4 L1228.1,1173.9 L1228.1,1175.4 L1228.2,1176.9 L1228.2,1178.4 L1228.2,1179.9 L1228.3,1181.4 L1228.3,1182.9 L1228.3,1184.4 L1228.4,1185.9 L1228.4,1187.4 L1228.5,1188.9 L1228.5,1190.4 L1228.5,1191.9 L1228.6,1193.4 L1228.6,1194.9 L1228.6,1196.5 L1228.7,1198.0 L1228.7,1199.5 L1228.8,1201.0 L1228.8,1202.5 L1228.8,1204.0 L1228.9,1205.5 L1228.9,1207.0 L1228.9,1208.5 L1229.0,1210.0" stroke="#ff0000"/>
<path d="M1255.4,1210.0 C1255.8,1173.3 1256.1,1135.8 1256.5,1100.0 C1256.9,1065.9 1257.3,1024.8 1258.0,1000.0 C1258.4,985.3 1258.7,973.1 1259.5,965.0 C1259.9,960.6 1259.7,956.1 1261.0,955.0 C1261.6,954.4 1262.8,954.4 1263.5,955.0 C1265.0,956.3 1264.9,961.9 1265.5,968.0 C1266.9,981.8 1267.6,1011.4 1268.8,1036.0 C1270.3,1065.3 1271.0,1102.3 1273.7,1132.3 C1276.1,1158.9 1281.8,1199.3 1283.3,1207.3 C1283.6,1208.8 1283.8,1209.1 1284.0,1210.0" stroke="#ff0000"/>
<path d="M747.0,1210.0 L747.8,1208.7 L748.7,1207.5 L749.5,1206.2 L750.2,1204.9 L751.0,1203.6 L751.7,1202.3 L752.4,1200.9 L753.1,1199.6 L753.7,1198.3 L754.3,1196.9 L755.0,1195.6 L755.5,1194.2 L756.1,1192.8 L756.7,1191.5 L757.2,1190.1 L757.7,1188.7 L758.2,1187.3 L758.7,1185.9 L759.1,1184.5 L759.6,1183.1 L760.0,1181.6 L760.4,1180.2 L760.8,1178.8 L761.2,1177.4 L761.6,1175.9 L761.9,1174.5 L762.3,1173.0 L762.6,1171.6 L762.9,1170.1 L763.2,1168.7 L763.5,1167.2 L763.8,1165.7 L764.1,1164.3 L764.4,1162.8 L764.6,1161.3 L764.9,1159.8 L765.1,1158.3 L765.4,1156.9 L765.6,1155.4 L765.8,1153.9 L766.1,1152.4 L766.3,1150.9 L766.5,1149.4 L766.7,1147.9 L766.9,1146.4 L767.1,1144.9 L767.3,1143.4 L767.5,1141.9 L767.7,1140.4 L767.9,1138.9 L768.1,1137.5 L768.3,1136.0 L768.5,1134.5 L768.7,1133.0 L768.9,1131.5 L769.1,1130.0 L769.3,1128.5 L769.5,1127.0 L769.7,1125.5 L769.9,1124.0 L770.1,1122.5 L770.3,1121.0 L770.5,1119.5 L770.7,1118.0 L770.9,1116.5 L771.1,1115.0 L771.3,1113.6 L771.5,1112.1 L771.7,1110.6 L771.9,1109.1 L772.1,1107.6 L772.3,1106.1 L772.4,1104.6 L772.6,1103.1 L772.8,1101.6 L773.0,1100.1 L773.2,1098.6 L773.4,1097.1 L773.6,1095.7 L773.8,1094.2 L774.0,1092.7 L774.2,1091.2 L774.3,1089.7 L774.5,1088.2 L774.7,1086.7 L774.9,1085.2 L775.1,1083.7 L775.3,1082.2 L775.5,1080.7 L775.6,1079.2 L775.8,1077.8 L776.0,1076.3 L776.2,1074.8 L776.4,1073.3 L776.6,1071.8 L776.7,1070.3 L776.9,1068.8 L777.1,1067.3 L777.3,1065.8 L777.5,1064.3 L777.7,1062.8 L777.8,1061.4 L778.0,1059.9 L778.2,1058.4 L778.4,1056.9 L778.6,1055.4 L778.7,1053.9 L778.9,1052.4 L779.1,1050.9 L779.3,1049.4 L779.5,1047.9 L779.7,1046.5 L779.8,1045.0 L780.0,1043.5 L780.2,1042.0 L780.4,1040.5 L780.5,1039.0 L780.7,1037.5 L780.9,1036.0 L781.1,1034.5 L781.3,1033.0 L781.4,1031.6 L781.6,1030.1 L781.8,1028.6 L782.0,1027.1 L782.1,1025.6 L782.3,1024.1 L782.5,1022.6 L782.7,1021.1 L782.9,1019.6 L783.0,1018.1 L783.2,1016.6 L783.4,1015.2 L783.6,1013.7 L783.7,1012.2 L783.9,1010.7 L784.1,1009.2 L784.3,1007.7 L784.4,1006.2 L784.6,1004.7 L784.8,1003.2 L785.0,1001.7 L785.2,1000.2 L785.3,998.8 L785.5,997.3 L785.7,995.8 L785.9,994.3 L786.0,992.8 L786.2,991.3 L786.4,989.8 L786.6,988.3 L786.7,986.8 L786.9,985.3 L787.1,983.8 L787.3,982.4 L787.4,980.9 L787.6,979.4 L787.8,977.9 L788.0,976.4 L788.2,974.9 L788.3,973.4 L788.5,971.9 L788.7,970.4 L788.9,968.9 L789.0,967.4 L789.2,965.9 L789.4,964.4 L789.6,963.0 L789.7,961.5 L789.9,960.0 L790.1,958.5 L790.3,957.0 L790.5,955.5 L790.6,954.0 L790.8,952.5 L791.0,951.0 L791.2,949.5 L791.4,948.0 L791.5,946.5 L791.7,945.0 L791.9,943.6 L792.1,942.1 L792.3,940.6 L792.4,939.1 L792.6,937.6 L792.8,936.1 L793.0,934.6 L793.2,933.1 L793.4,931.6 L793.5,930.1 L793.7,928.6 L793.9,927.1 L794.1,925.6 L794.3,924.2 L794.5,922.7 L794.6,921.2 L794.8,919.7 L795.0,918.2 L795.2,916.7 L795.4,915.2 L795.6,913.7 L795.8,912.2 L796.0,910.7 L796.1,909.2 L796.3,907.7 L796.5,906.2 L796.7,904.8 L796.9,903.3 L797.1,901.8 L797.3,900.3 L797.5,898.8 L797.7,897.3 L797.9,895.8 L798.1,894.3 L798.3,892.8 L798.4,891.3 L798.6,889.8 L798.8,888.3 L799.0,886.9 L799.2,885.4 L799.4,883.9 L799.6,882.4 L799.8,880.9 L800.0,879.4 L800.2,877.9 L800.4,876.4 L800.6,874.9 L800.8,873.4 L801.0,872.0 L801.3,870.5 L801.5,869.0 L801.7,867.5 L801.9,866.0 L802.1,864.5 L802.3,863.0 L802.5,861.5 L802.7,860.0 L802.9,858.5 L803.1,857.1 L803.3,855.6 L803.6,854.1 L803.8,852.6 L804.0,851.1 L804.2,849.6 L804.4,848.1 L804.6,846.6 L804.8,845.2 L805.1,843.7 L805.3,842.2 L805.5,840.7 L805.7,839.2 L805.9,837.7 L806.2,836.2 L806.4,834.8 L806.6,833.3 L806.8,831.8 L807.1,830.3 L807.3,828.8 L807.5,827.3 L807.8,825.8 L808.0,824.4 L808.2,822.9 L808.5,821.4 L808.7,819.9 L808.9,818.4 L809.2,816.9 L809.4,815.4 L809.6,814.0 L809.9,812.5 L810.1,811.0 L810.4,809.5 L810.6,808.0 L810.8,806.6 L811.1,805.1 L811.3,803.6 L811.6,802.1 L811.8,800.6 L812.1,799.1 L812.3,797.7 L812.6,796.2 L812.8,794.7 L813.1,793.2 L813.3,791.7 L813.6,790.3 L813.9,788.8 L814.1,787.3 L814.4,785.8 L814.6,784.3 L814.9,782.9 L815.2,781.4 L815.4,779.9 L815.7,778.4 L816.0,777.0 L816.2,775.5 L816.5,774.0 L816.8,772.5 L817.0,771.1 L817.3,769.6 L817.6,768.1 L817.9,766.6 L818.1,765.2 L818.4,763.7 L818.7,762.2 L819.0,760.7 L819.3,759.3 L819.6,757.8 L819.8,756.3 L820.1,754.8 L820.4,753.4 L820.7,751.9 L821.0,750.4 L821.3,748.9 L821.6,747.5 L821.9,746.0 L822.2,744.5 L822.5,743.1 L822.8,741.6 L823.1,740.1 L823.4,738.7 L823.7,737.2 L824.0,735.7 L824.3,734.3 L824.6,732.8 L824.9,731.3 L825.2,729.8 L825.6,728.4 L825.9,726.9 L826.2,725.4 L826.5,724.0 L826.8,722.5 L827.2,721.1 L827.5,719.6 L827.8,718.1 L828.1,716.7 L828.5,715.2 L828.8,713.7 L829.1,712.3 L829.5,710.8 L829.8,709.3 L830.1,707.9 L830.5,706.4 L830.8,705.0 L831.2,703.5 L831.5,702.0 L831.8,700.6 L832.2,699.1 L832.5,697.7 L832.9,696.2 L833.3,694.8 L833.6,693.3 L834.0,691.8 L834.3,690.4 L834.7,688.9 L835.0,687.5 L835.4,686.0 L835.8,684.6 L836.1,683.1 L836.5,681.7 L836.9,680.2 L837.3,678.7 L837.6,677.3 L838.0,675.8 L838.4,674.4 L838.8,672.9 L839.2,671.5 L839.5,670.0 L839.9,668.6 L840.3,667.1 L840.7,665.7 L841.1,664.3 L841.5,662.8 L841.9,661.4 L842.3,659.9 L842.7,658.5 L843.1,657.0 L843.5,655.6 L843.9,654.1 L844.4,652.7 L844.8,651.3 L845.2,649.8 L845.6,648.4 L846.0,646.9 L846.5,645.5 L846.9,644.1 L847.3,642.6 L847.8,641.2 L848.2,639.8 L848.6,638.3 L849.1,636.9 L849.5,635.5 L850.0,634.0 L850.4,632.6 L850.9,631.2 L851.4,629.8 L851.8,628.3 L852.3,626.9 L852.8,625.5 L853.2,624.1 L853.7,622.6 L854.2,621.2 L854.7,619.8 L855.1,618.4 L855.6,617.0 L856.1,615.6 L856.6,614.1 L857.1,612.7 L857.6,611.3 L858.1,609.9 L858.6,608.5 L859.1,607.1 L859.7,605.7 L860.2,604.3 L860.7,602.9 L861.2,601.5 L861.7,600.1 L862.3,598.7 L862.8,597.3 L863.4,595.9 L863.9,594.5 L864.5,593.1 L865.0,591.7 L865.6,590.3 L866.1,588.9 L866.7,587.5 L867.3,586.1 L867.8,584.7 L868.4,583.4 L869.0,582.0 L869.6,580.6 L870.2,579.2 L870.7,577.8 L871.3,576.5 L871.9,575.1 L872.5,573.7 L873.2,572.3 L873.8,571.0 L874.4,569.6 L875.0,568.2 L875.6,566.9 L876.3,565.5 L876.9,564.1 L877.5,562.8 L878.2,561.4 L878.8,560.1 L879.5,558.7 L880.2,557.4 L880.8,556.0 L881.5,554.7 L882.2,553.3 L882.8,552.0 L883.5,550.6 L884.2,549.3 L884.9,548.0 L885.6,546.6 L886.3,545.3 L887.0,544.0 L887.7,542.6 L888.4,541.3 L889.1,540.0 L889.9,538.6 L890.6,537.3 L891.3,536.0 L892.1,534.7 L892.8,533.4 L893.6,532.0 L894.3,530.7 L895.1,529.4 L895.9,528.1 L896.6,526.8 L897.4,525.5 L898.2,524.2 L899.0,522.9 L899.8,521.6 L900.6,520.3 L901.4,519.0 L902.2,517.7 L903.0,516.4 L903.9,515.2 L904.7,513.9 L905.5,512.6 L906.4,511.3 L907.2,510.0 L908.1,508.8 L908.9,507.5 L909.8,506.2 L910.6,505.0 L911.5,503.7 L912.4,502.4 L913.3,501.2 L914.2,499.9 L915.1,498.7 L916.0,497.4 L916.9,496.2 L917.8,494.9 L918.7,493.7 L919.7,492.4 L920.6,491.2 L921.5,490.0 L922.5,488.7 L923.4,487.5 L924.4,486.3 L925.4,485.1 L926.3,483.8 L927.3,482.6 L928.3,481.4 L929.3,480.2 L930.3,479.0 L931.3,477.8 L932.3,476.7 L933.3,475.5 L934.4,474.3 L935.4,473.2 L936.5,472.0 L937.5,470.9 L938.6,469.8 L939.6,468.7 L940.7,467.6 L941.8,466.5 L942.9,465.4 L944.0,464.3 L945.1,463.3 L946.2,462.2 L947.3,461.2 L948.4,460.2 L949.6,459.2 L950.7,458.2 L951.9,457.3 L953.0,456.3 L954.2,455.4 L955.4,454.5 L956.6,453.6 L957.8,452.7 L959.0,451.8 L960.2,451.0 L961.4,450.2 L962.6,449.3 L963.9,448.6 L965.1,447.8 L966.4,447.1 L967.6,446.3 L968.9,445.6 L970.2,445.0 L971.5,444.3 L972.8,443.7 L974.1,443.1 L975.4,442.5 L976.8,442.0 L978.1,441.4 L979.5,440.9 L980.8,440.4 L982.2,440.0 L983.6,439.6 L985.0,439.2 L986.4,438.8 L987.8,438.5 L989.2,438.2 L990.7,437.9 L992.1,437.6 L993.6,437.4 L995.0,437.2 L996.5,437.1 L998.0,436.9 L999.5,436.8 L1001.0,436.8 L1002.5,436.7 L1004.0,436.7 L1005.5,436.7 L1007.0,436.7 L1008.5,436.8 L1010.0,436.9 L1011.5,437.0 L1013.1,437.2 L1014.6,437.3 L1016.1,437.5 L1017.6,437.7 L1019.1,438.0 L1020.6,438.2 L1022.0,438.5 L1023.5,438.8 L1025.0,439.2 L1026.4,439.5 L1027.9,439.9 L1029.3,440.3 L1030.7,440.7 L1032.1,441.1 L1033.5,441.6 L1034.9,442.0 L1036.3,442.5 L1037.7,443.1 L1039.0,443.6 L1040.4,444.1 L1041.7,444.7 L1043.0,445.3 L1044.3,445.9 L1045.6,446.5 L1046.9,447.2 L1048.2,447.8 L1049.5,448.5 L1050.7,449.2 L1052.0,449.9 L1053.2,450.7 L1054.4,451.4 L1055.7,452.2 L1056.9,453.0 L1058.1,453.8 L1059.2,454.6 L1060.4,455.4 L1061.6,456.3 L1062.7,457.1 L1063.9,458.0 L1065.0,458.9 L1066.2,459.8 L1067.3,460.7 L1068.4,461.7 L1069.5,462.6 L1070.6,463.6 L1071.7,464.6 L1072.7,465.5 L1073.8,466.5 L1074.9,467.6 L1075.9,468.6 L1076.9,469.6 L1078.0,470.7 L1079.0,471.8 L1080.0,472.8 L1081.0,473.9 L1082.0,475.0 L1083.0,476.2 L1083.9,477.3 L1084.9,478.4 L1085.9,479.6 L1086.8,480.7 L1087.7,481.9 L1088.7,483.1 L1089.6,484.3 L1090.5,485.5 L1091.4,486.7 L1092.3,487.9 L1093.2,489.1 L1094.1,490.4 L1095.0,491.6 L1095.8,492.9 L1096.7,494.1 L1097.6,495.4 L1098.4,496.7 L1099.2,498.0 L1100.1,499.3 L1100.9,500.6 L1101.7,501.9 L1102.5,503.2 L1103.3,504.5 L1104.1,505.8 L1104.9,507.2 L1105.7,508.5 L1106.4,509.8 L1107.2,511.2 L1108.0,512.6 L1108.7,513.9 L1109.4,515.3 L1110.2,516.7 L1110.9,518.0 L1111.6,519.4 L1112.4,520.8 L1113.1,522.2 L1113.8,523.6 L1114.5,525.0 L1115.2,526.4 L1115.8,527.8 L1116.5,529.2 L1117.2,530.6 L1117.9,532.0 L1118.5,533.4 L1119.2,534.8 L1119.8,536.2 L1120.5,537.7 L1121.1,539.1 L1121.7,540.5 L1122.3,541.9 L1123.0,543.3 L1123.6,544.8 L1124.2,546.2 L1124.8,547.6 L1125.4,549.0 L1126.0,550.5 L1126.6,551.9 L1127.1,553.3 L1127.7,554.7 L1128.3,556.2 L1128.9,557.6 L1129.4,559.0 L1130.0,560.4 L1130.5,561.9 L1131.1,563.3 L1131.6,564.7 L1132.1,566.1 L1132.7,567.6 L1133.2,569.0 L1133.7,570.4 L1134.2,571.8 L1134.8,573.3 L1135.3,574.7 L1135.8,576.1 L1136.3,577.6 L1136.8,579.0 L1137.3,580.4 L1137.7,581.8 L1138.2,583.3 L1138.7,584.7 L1139.2,586.1 L1139.6,587.6 L1140.1,589.0 L1140.6,590.4 L1141.0,591.9 L1141.5,593.3 L1141.9,594.7 L1142.4,596.1 L1142.8,597.6 L1143.3,599.0 L1143.7,600.4 L1144.1,601.9 L1144.6,603.3 L1145.0,604.7 L1145.4,606.2 L1145.8,607.6 L1146.3,609.0 L1146.7,610.5 L1147.1,611.9 L1147.5,613.3 L1147.9,614.8 L1148.3,616.2 L1148.7,617.6 L1149.1,619.1 L1149.5,620.5 L1149.9,622.0 L1150.3,623.4 L1150.6,624.8 L1151.0,626.3 L1151.4,627.7 L1151.8,629.1 L1152.2,630.6 L1152.5,632.0 L1152.9,633.5 L1153.3,634.9 L1153.6,636.3 L1154.0,637.8 L1154.4,639.2 L1154.7,640.7 L1155.1,642.1 L1155.4,643.5 L1155.8,645.0 L1156.1,646.4 L1156.5,647.9 L1156.8,649.3 L1157.2,650.8 L1157.5,652.2 L1157.9,653.7 L1158.2,655.1 L1158.5,656.5 L1158.9,658.0 L1159.2,659.4 L1159.5,660.9 L1159.9,662.3 L1160.2,663.8 L1160.5,665.2 L1160.9,666.7 L1161.2,668.1 L1161.5,669.6 L1161.9,671.0 L1162.2,672.5 L1162.5,673.9 L1162.8,675.4 L1163.2,676.8 L1163.5,678.3 L1163.8,679.7 L1164.1,681.2 L1164.4,682.6 L1164.8,684.1 L1165.1,685.5 L1165.4,687.0 L1165.7,688.5 L1166.0,689.9 L1166.3,691.4 L1166.7,692.8 L1167.0,694.3 L1167.3,695.7 L1167.6,697.2 L1167.9,698.7 L1168.2,700.1 L1168.5,701.6 L1168.8,703.0 L1169.1,704.5 L1169.4,705.9 L1169.7,707.4 L1170.0,708.9 L1170.4,710.3 L1170.7,711.8 L1171.0,713.3 L1171.3,714.7 L1171.6,716.2 L1171.9,717.6 L1172.1,719.1 L1172.4,720.6 L1172.7,722.0 L1173.0,723.5 L1173.3,725.0 L1173.6,726.4 L1173.9,727.9 L1174.2,729.4 L1174.5,730.8 L1174.8,732.3 L1175.1,733.8 L1175.4,735.2 L1175.7,736.7 L1175.9,738.2 L1176.2,739.6 L1176.5,741.1 L1176.8,742.6 L1177.1,744.0 L1177.4,745.5 L1177.6,747.0 L1177.9,748.4 L1178.2,749.9 L1178.5,751.4 L1178.8,752.9 L1179.0,754.3 L1179.3,755.8 L1179.6,757.3 L1179.9,758.8 L1180.1,760.2 L1180.4,761.7 L1180.7,763.2 L1180.9,764.6 L1181.2,766.1 L1181.5,767.6 L1181.7,769.1 L1182.0,770.5 L1182.3,772.0 L1182.5,773.5 L1182.8,775.0 L1183.1,776.5 L1183.3,777.9 L1183.6,779.4 L1183.9,780.9 L1184.1,782.4 L1184.4,783.8 L1184.6,785.3 L1184.9,786.8 L1185.1,788.3 L1185.4,789.8 L1185.7,791.2 L1185.9,792.7 L1186.2,794.2 L1186.4,795.7 L1186.7,797.2 L1186.9,798.6 L1187.2,800.1 L1187.4,801.6 L1187.7,803.1 L1187.9,804.6 L1188.2,806.1 L1188.4,807.5 L1188.7,809.0 L1188.9,810.5 L1189.1,812.0 L1189.4,813.5 L1189.6,815.0 L1189.9,816.4 L1190.1,817.9 L1190.3,819.4 L1190.6,820.9 L1190.8,822.4 L1191.1,823.9 L1191.3,825.4 L1191.5,826.8 L1191.8,828.3 L1192.0,829.8 L1192.2,831.3 L1192.5,832.8 L1192.7,834.3 L1192.9,835.8 L1193.1,837.2 L1193.4,838.7 L1193.6,840.2 L1193.8,841.7 L1194.1,843.2 L1194.3,844.7 L1194.5,846.2 L1194.7,847.7 L1194.9,849.2 L1195.2,850.6 L1195.4,852.1 L1195.6,853.6 L1195.8,855.1 L1196.0,856.6 L1196.3,858.1 L1196.5,859.6 L1196.7,861.1 L1196.9,862.6 L1197.1,864.1 L1197.3,865.6 L1197.6,867.1 L1197.8,868.5 L1198.0,870.0 L1198.2,871.5 L1198.4,873.0 L1198.6,874.5 L1198.8,876.0 L1199.0,877.5 L1199.2,879.0 L1199.4,880.5 L1199.6,882.0 L1199.8,883.5 L1200.0,885.0 L1200.2,886.5 L1200.4,888.0 L1200.6,889.5 L1200.8,890.9 L1201.0,892.4 L1201.2,893.9 L1201.4,895.4 L1201.6,896.9 L1201.8,898.4 L1202.0,899.9 L1202.2,901.4 L1202.4,902.9 L1202.6,904.4 L1202.8,905.9 L1203.0,907.4 L1203.2,908.9 L1203.4,910.4 L1203.5,911.9 L1203.7,913.4 L1203.9,914.9 L1204.1,916.4 L1204.3,917.9 L1204.5,919.4 L1204.7,920.9 L1204.8,922.4 L1205.0,923.9 L1205.2,925.4 L1205.4,926.9 L1205.6,928.4 L1205.7,929.9 L1205.9,931.4 L1206.1,932.9 L1206.3,934.4 L1206.4,935.9 L1206.6,937.4 L1206.8,938.9 L1207.0,940.4 L1207.1,941.9 L1207.3,943.4 L1207.5,944.9 L1207.7,946.4 L1207.8,947.9 L1208.0,949.4 L1208.2,950.9 L1208.3,952.4 L1208.5,953.9 L1208.7,955.4 L1208.8,956.9 L1209.0,958.4 L1209.1,959.9 L1209.3,961.4 L1209.5,962.9 L1209.6,964.4 L1209.8,965.9 L1209.9,967.4 L1210.1,968.9 L1210.3,970.4 L1210.4,971.9 L1210.6,973.4 L1210.7,974.9 L1210.9,976.4 L1211.0,977.9 L1211.2,979.4 L1211.3,980.9 L1211.5,982.4 L1211.6,983.9 L1211.8,985.4 L1211.9,986.9 L1212.1,988.4 L1212.2,989.9 L1212.4,991.4 L1212.5,992.9 L1212.7,994.4 L1212.8,995.9 L1213.0,997.4 L1213.1,998.9 L1213.3,1000.4 L1213.4,1001.9 L1213.5,1003.4 L1213.7,1004.9 L1213.8,1006.4 L1214.0,1007.9 L1214.1,1009.4 L1214.2,1010.9 L1214.4,1012.4 L1214.5,1013.9 L1214.6,1015.4 L1214.8,1016.9 L1214.9,1018.4 L1215.0,1019.9 L1215.2,1021.4 L1215.3,1022.9 L1215.4,1024.4 L1215.6,1025.9 L1215.7,1027.4 L1215.8,1028.9 L1215.9,1030.4 L1216.1,1031.9 L1216.2,1033.4 L1216.3,1034.9 L1216.4,1036.4 L1216.6,1037.9 L1216.7,1039.4 L1216.8,1040.9 L1216.9,1042.4 L1217.0,1043.9 L1217.2,1045.4 L1217.3,1046.9 L1217.4,1048.4 L1217.5,1049.9 L1217.6,1051.4 L1217.8,1053.0 L1217.9,1054.5 L1218.0,1056.0 L1218.1,1057.5 L1218.2,1059.0 L1218.3,1060.5 L1218.4,1062.0 L1218.5,1063.5 L1218.7,1065.0 L1218.8,1066.5 L1218.9,1068.0 L1219.0,1069.5 L1219.1,1071.0 L1219.2,1072.5 L1219.3,1074.0 L1219.4,1075.5 L1219.5,1077.0 L1219.6,1078.5 L1219.7,1080.0 L1219.8,1081.5 L1219.9,1083.0 L1220.0,1084.5 L1220.1,1086.0 L1220.2,1087.5 L1220.3,1089.0 L1220.4,1090.5 L1220.5,1092.0 L1220.6,1093.5 L1220.7,1095.0 L1220.8,1096.5 L1220.9,1098.0 L1221.0,1099.5 L1221.1,1101.0 L1221.2,1102.5 L1221.3,1104.0 L1221.4,1105.5 L1221.4,1107.0 L1221.5,1108.5 L1221.6,1110.0 L1221.7,1111.5 L1221.8,1112.9 L1221.9,1114.4 L1222.0,1115.9 L1222.1,1117.4 L1222.1,1118.9 L1222.2,1120.4 L1222.3,1121.9 L1222.4,1123.4 L1222.5,1124.9 L1222.6,1126.4 L1222.6,1127.9 L1222.7,1129.4 L1222.8,1130.9 L1222.9,1132.4 L1222.9,1133.9 L1223.0,1135.4 L1223.1,1136.9 L1223.2,1138.4 L1223.2,1139.9 L1223.3,1141.4 L1223.4,1142.9 L1223.5,1144.4 L1223.5,1145.9 L1223.6,1147.4 L1223.7,1148.9 L1223.8,1150.4 L1223.8,1151.9 L1223.9,1153.3 L1224.0,1154.8 L1224.0,1156.3 L1224.1,1157.8 L1224.2,1159.3 L1224.2,1160.8 L1224.3,1162.3 L1224.3,1163.8 L1224.4,1165.3 L1224.5,1166.8 L1224.5,1168.3 L1224.6,1169.8 L1224.7,1171.3 L1224.7,1172.8 L1224.8,1174.2 L1224.8,1175.7 L1224.9,1177.2 L1224.9,1178.7 L1225.0,1180.2 L1225.1,1181.7 L1225.1,1183.2 L1225.2,1184.7 L1225.2,1186.2 L1225.3,1187.7 L1225.3,1189.2 L1225.4,1190.6 L1225.4,1192.1 L1225.5,1193.6 L1225.5,1195.1 L1225.6,1196.6 L1225.6,1198.1 L1225.7,1199.6 L1225.7,1201.1 L1225.8,1202.6 L1225.8,1204.0 L1225.8,1205.5 L1225.9,1207.0 L1225.9,1208.5 L1226.0,1210.0" stroke="#00ff00"/>
<path d="M1256.0,1210.0 C1256.5,1190.0 1256.9,1168.5 1257.5,1150.0 C1258.0,1134.0 1258.5,1118.6 1259.2,1105.4 C1259.7,1094.9 1258.9,1079.0 1261.0,1077.0 C1261.6,1076.5 1262.4,1076.5 1263.0,1077.0 C1264.6,1078.3 1264.7,1087.8 1265.5,1092.0 C1266.0,1095.0 1266.5,1095.7 1267.0,1099.6 C1268.5,1112.4 1268.9,1162.9 1270.8,1182.3 C1271.9,1193.0 1274.0,1202.7 1274.6,1207.0 C1274.8,1208.5 1274.9,1209.0 1275.0,1210.0" stroke="#00ff00"/>
<path d="M790.0,1210.0 L790.4,1208.6 L790.8,1207.2 L791.2,1205.7 L791.6,1204.3 L792.0,1202.9 L792.3,1201.5 L792.7,1200.0 L793.1,1198.6 L793.4,1197.2 L793.8,1195.7 L794.1,1194.3 L794.5,1192.9 L794.8,1191.4 L795.2,1190.0 L795.5,1188.6 L795.8,1187.1 L796.2,1185.7 L796.5,1184.2 L796.8,1182.8 L797.1,1181.3 L797.5,1179.9 L797.8,1178.4 L798.1,1177.0 L798.4,1175.5 L798.7,1174.0 L799.0,1172.6 L799.3,1171.1 L799.6,1169.7 L799.9,1168.2 L800.2,1166.7 L800.5,1165.3 L800.7,1163.8 L801.0,1162.3 L801.3,1160.9 L801.6,1159.4 L801.9,1157.9 L802.1,1156.4 L802.4,1155.0 L802.7,1153.5 L802.9,1152.0 L803.2,1150.5 L803.4,1149.1 L803.7,1147.6 L804.0,1146.1 L804.2,1144.6 L804.5,1143.1 L804.7,1141.6 L805.0,1140.1 L805.2,1138.7 L805.4,1137.2 L805.7,1135.7 L805.9,1134.2 L806.1,1132.7 L806.4,1131.2 L806.6,1129.7 L806.8,1128.2 L807.1,1126.7 L807.3,1125.2 L807.5,1123.7 L807.7,1122.2 L808.0,1120.7 L808.2,1119.2 L808.4,1117.7 L808.6,1116.2 L808.8,1114.7 L809.1,1113.2 L809.3,1111.7 L809.5,1110.2 L809.7,1108.7 L809.9,1107.2 L810.1,1105.7 L810.3,1104.2 L810.5,1102.7 L810.7,1101.2 L810.9,1099.7 L811.1,1098.2 L811.3,1096.7 L811.5,1095.2 L811.7,1093.7 L811.9,1092.2 L812.1,1090.6 L812.3,1089.1 L812.5,1087.6 L812.7,1086.1 L812.9,1084.6 L813.1,1083.1 L813.3,1081.6 L813.5,1080.1 L813.7,1078.6 L813.9,1077.1 L814.1,1075.5 L814.3,1074.0 L814.5,1072.5 L814.7,1071.0 L814.9,1069.5 L815.1,1068.0 L815.3,1066.5 L815.5,1065.0 L815.7,1063.5 L815.9,1062.0 L816.1,1060.4 L816.3,1058.9 L816.5,1057.4 L816.6,1055.9 L816.8,1054.4 L817.0,1052.9 L817.2,1051.4 L817.4,1049.9 L817.6,1048.4 L817.8,1046.9 L818.0,1045.3 L818.2,1043.8 L818.4,1042.3 L818.6,1040.8 L818.8,1039.3 L819.0,1037.8 L819.2,1036.3 L819.4,1034.8 L819.7,1033.3 L819.9,1031.8 L820.1,1030.3 L820.3,1028.8 L820.5,1027.3 L820.7,1025.8 L820.9,1024.3 L821.1,1022.8 L821.3,1021.3 L821.5,1019.8 L821.8,1018.3 L822.0,1016.8 L822.2,1015.3 L822.4,1013.8 L822.6,1012.3 L822.9,1010.8 L823.1,1009.3 L823.3,1007.8 L823.6,1006.3 L823.8,1004.8 L824.0,1003.3 L824.3,1001.9 L824.5,1000.4 L824.7,998.9 L825.0,997.4 L825.2,995.9 L825.5,994.4 L825.7,992.9 L826.0,991.5 L826.2,990.0 L826.5,988.5 L826.7,987.0 L827.0,985.5 L827.2,984.1 L827.5,982.6 L827.7,981.1 L828.0,979.6 L828.3,978.1 L828.5,976.7 L828.8,975.2 L829.1,973.7 L829.4,972.3 L829.6,970.8 L829.9,969.3 L830.2,967.8 L830.5,966.4 L830.7,964.9 L831.0,963.4 L831.3,962.0 L831.6,960.5 L831.9,959.1 L832.2,957.6 L832.5,956.1 L832.8,954.7 L833.0,953.2 L833.3,951.7 L833.6,950.3 L833.9,948.8 L834.2,947.4 L834.5,945.9 L834.9,944.4 L835.2,943.0 L835.5,941.5 L835.8,940.1 L836.1,938.6 L836.4,937.2 L836.7,935.7 L837.0,934.3 L837.4,932.8 L837.7,931.4 L838.0,929.9 L838.3,928.5 L838.7,927.0 L839.0,925.6 L839.3,924.1 L839.6,922.7 L840.0,921.2 L840.3,919.8 L840.6,918.3 L841.0,916.9 L841.3,915.4 L841.7,914.0 L842.0,912.5 L842.4,911.1 L842.7,909.7 L843.1,908.2 L843.4,906.8 L843.8,905.3 L844.1,903.9 L844.5,902.4 L844.8,901.0 L845.2,899.6 L845.5,898.1 L845.9,896.7 L846.3,895.2 L846.6,893.8 L847.0,892.4 L847.4,890.9 L847.7,889.5 L848.1,888.1 L848.5,886.6 L848.8,885.2 L849.2,883.8 L849.6,882.3 L850.0,880.9 L850.4,879.5 L850.7,878.0 L851.1,876.6 L851.5,875.2 L851.9,873.7 L852.3,872.3 L852.7,870.9 L853.1,869.4 L853.5,868.0 L853.8,866.6 L854.2,865.1 L854.6,863.7 L855.0,862.3 L855.4,860.8 L855.8,859.4 L856.2,858.0 L856.7,856.5 L857.1,855.1 L857.5,853.7 L857.9,852.3 L858.3,850.8 L858.7,849.4 L859.1,848.0 L859.5,846.5 L859.9,845.1 L860.4,843.7 L860.8,842.3 L861.2,840.8 L861.6,839.4 L862.1,838.0 L862.5,836.6 L862.9,835.1 L863.3,833.7 L863.8,832.3 L864.2,830.9 L864.6,829.4 L865.1,828.0 L865.5,826.6 L865.9,825.1 L866.4,823.7 L866.8,822.3 L867.3,820.9 L867.7,819.4 L868.2,818.0 L868.6,816.6 L869.1,815.2 L869.5,813.7 L870.0,812.3 L870.4,810.9 L870.9,809.5 L871.3,808.0 L871.8,806.6 L872.2,805.2 L872.7,803.8 L873.2,802.3 L873.6,800.9 L874.1,799.5 L874.5,798.1 L875.0,796.6 L875.5,795.2 L876.0,793.8 L876.4,792.4 L876.9,790.9 L877.4,789.5 L877.8,788.1 L878.3,786.7 L878.8,785.2 L879.3,783.8 L879.8,782.4 L880.2,780.9 L880.7,779.5 L881.2,778.1 L881.7,776.7 L882.2,775.2 L882.7,773.8 L883.2,772.4 L883.6,771.0 L884.1,769.5 L884.6,768.1 L885.1,766.7 L885.6,765.2 L886.1,763.8 L886.6,762.4 L887.1,761.0 L887.6,759.5 L888.1,758.1 L888.6,756.7 L889.1,755.2 L889.6,753.8 L890.1,752.4 L890.7,750.9 L891.2,749.5 L891.7,748.1 L892.2,746.6 L892.7,745.2 L893.2,743.8 L893.7,742.3 L894.3,740.9 L894.8,739.5 L895.3,738.0 L895.8,736.6 L896.3,735.2 L896.9,733.7 L897.4,732.3 L897.9,730.9 L898.5,729.4 L899.0,728.0 L899.5,726.5 L900.0,725.1 L900.6,723.7 L901.1,722.2 L901.6,720.8 L902.2,719.4 L902.7,717.9 L903.3,716.5 L903.8,715.0 L904.3,713.6 L904.9,712.2 L905.4,710.7 L906.0,709.3 L906.5,707.8 L907.1,706.4 L907.6,705.0 L908.2,703.5 L908.8,702.1 L909.3,700.7 L909.9,699.2 L910.5,697.8 L911.0,696.4 L911.6,694.9 L912.2,693.5 L912.8,692.1 L913.3,690.7 L913.9,689.2 L914.5,687.8 L915.1,686.4 L915.7,685.0 L916.3,683.6 L916.9,682.2 L917.5,680.7 L918.1,679.3 L918.7,677.9 L919.3,676.5 L920.0,675.1 L920.6,673.7 L921.2,672.3 L921.9,670.9 L922.5,669.5 L923.1,668.2 L923.8,666.8 L924.4,665.4 L925.1,664.0 L925.7,662.6 L926.4,661.3 L927.1,659.9 L927.8,658.6 L928.4,657.2 L929.1,655.8 L929.8,654.5 L930.5,653.1 L931.2,651.8 L931.9,650.5 L932.6,649.1 L933.3,647.8 L934.1,646.5 L934.8,645.2 L935.5,643.8 L936.3,642.5 L937.0,641.2 L937.8,639.9 L938.5,638.6 L939.3,637.3 L940.1,636.1 L940.8,634.8 L941.6,633.5 L942.4,632.2 L943.2,631.0 L944.0,629.7 L944.8,628.5 L945.6,627.2 L946.5,626.0 L947.3,624.8 L948.1,623.5 L949.0,622.3 L949.8,621.1 L950.7,619.9 L951.6,618.7 L952.4,617.5 L953.3,616.3 L954.2,615.1 L955.1,614.0 L956.0,612.8 L956.9,611.6 L957.9,610.5 L958.8,609.3 L959.7,608.2 L960.7,607.1 L961.6,606.0 L962.6,604.8 L963.6,603.7 L964.6,602.6 L965.5,601.5 L966.5,600.5 L967.6,599.4 L968.6,598.3 L969.6,597.3 L970.6,596.2 L971.7,595.2 L972.7,594.2 L973.8,593.1 L974.9,592.1 L976.0,591.1 L977.0,590.1 L978.1,589.1 L979.3,588.2 L980.4,587.2 L981.5,586.2 L982.7,585.3 L983.8,584.3 L985.0,583.4 L986.1,582.5 L987.3,581.6 L988.5,580.7 L989.7,579.8 L990.9,578.9 L992.2,578.0 L993.4,577.2 L994.6,576.3 L995.9,575.5 L997.2,574.7 L998.4,573.9 L999.7,573.1 L1001.0,572.3 L1002.3,571.5 L1003.6,570.7 L1005.0,570.0 L1006.3,569.3 L1007.6,568.6 L1009.0,567.9 L1010.4,567.2 L1011.7,566.6 L1013.1,566.0 L1014.5,565.4 L1015.8,564.8 L1017.2,564.3 L1018.6,563.7 L1020.0,563.3 L1021.4,562.8 L1022.8,562.4 L1024.2,561.9 L1025.7,561.6 L1027.1,561.2 L1028.5,560.9 L1029.9,560.6 L1031.4,560.4 L1032.8,560.2 L1034.2,560.0 L1035.6,559.8 L1037.1,559.7 L1038.5,559.7 L1040.0,559.6 L1041.4,559.7 L1042.8,559.7 L1044.3,559.8 L1045.7,559.9 L1047.1,560.1 L1048.6,560.3 L1050.0,560.5 L1051.4,560.8 L1052.8,561.1 L1054.3,561.4 L1055.7,561.8 L1057.1,562.2 L1058.5,562.6 L1059.9,563.1 L1061.3,563.6 L1062.6,564.1 L1064.0,564.7 L1065.4,565.3 L1066.7,565.9 L1068.1,566.5 L1069.4,567.1 L1070.7,567.8 L1072.0,568.5 L1073.3,569.3 L1074.6,570.0 L1075.9,570.8 L1077.1,571.6 L1078.4,572.4 L1079.6,573.2 L1080.8,574.1 L1082.0,574.9 L1083.2,575.8 L1084.4,576.7 L1085.6,577.6 L1086.7,578.6 L1087.8,579.5 L1088.9,580.5 L1090.0,581.5 L1091.1,582.5 L1092.2,583.5 L1093.3,584.6 L1094.3,585.6 L1095.3,586.7 L1096.4,587.8 L1097.4,588.8 L1098.3,590.0 L1099.3,591.1 L1100.3,592.2 L1101.3,593.4 L1102.2,594.5 L1103.1,595.7 L1104.0,596.9 L1104.9,598.1 L1105.8,599.3 L1106.7,600.5 L1107.6,601.7 L1108.5,603.0 L1109.3,604.2 L1110.1,605.5 L1111.0,606.8 L1111.8,608.0 L1112.6,609.3 L1113.4,610.6 L1114.2,612.0 L1115.0,613.3 L1115.7,614.6 L1116.5,615.9 L1117.2,617.3 L1118.0,618.6 L1118.7,620.0 L1119.4,621.4 L1120.1,622.7 L1120.8,624.1 L1121.5,625.5 L1122.2,626.9 L1122.9,628.3 L1123.5,629.7 L1124.2,631.1 L1124.9,632.5 L1125.5,633.9 L1126.1,635.3 L1126.8,636.7 L1127.4,638.2 L1128.0,639.6 L1128.6,641.0 L1129.2,642.5 L1129.8,643.9 L1130.4,645.3 L1131.0,646.8 L1131.6,648.2 L1132.1,649.7 L1132.7,651.1 L1133.2,652.5 L1133.8,654.0 L1134.3,655.4 L1134.9,656.9 L1135.4,658.3 L1136.0,659.8 L1136.5,661.2 L1137.0,662.7 L1137.5,664.1 L1138.0,665.5 L1138.5,667.0 L1139.0,668.4 L1139.5,669.9 L1140.0,671.3 L1140.5,672.7 L1141.0,674.2 L1141.5,675.6 L1142.0,677.1 L1142.4,678.5 L1142.9,679.9 L1143.4,681.4 L1143.8,682.8 L1144.3,684.2 L1144.7,685.7 L1145.2,687.1 L1145.6,688.6 L1146.1,690.0 L1146.5,691.4 L1147.0,692.9 L1147.4,694.3 L1147.8,695.7 L1148.2,697.2 L1148.7,698.6 L1149.1,700.1 L1149.5,701.5 L1149.9,702.9 L1150.3,704.4 L1150.7,705.8 L1151.1,707.2 L1151.5,708.7 L1151.9,710.1 L1152.3,711.5 L1152.7,713.0 L1153.1,714.4 L1153.5,715.9 L1153.8,717.3 L1154.2,718.7 L1154.6,720.2 L1155.0,721.6 L1155.3,723.0 L1155.7,724.5 L1156.1,725.9 L1156.5,727.4 L1156.8,728.8 L1157.2,730.2 L1157.5,731.7 L1157.9,733.1 L1158.3,734.6 L1158.6,736.0 L1159.0,737.4 L1159.3,738.9 L1159.7,740.3 L1160.0,741.8 L1160.4,743.2 L1160.7,744.7 L1161.1,746.1 L1161.4,747.6 L1161.8,749.0 L1162.1,750.4 L1162.4,751.9 L1162.8,753.3 L1163.1,754.8 L1163.5,756.2 L1163.8,757.7 L1164.1,759.1 L1164.5,760.6 L1164.8,762.0 L1165.1,763.5 L1165.5,764.9 L1165.8,766.4 L1166.1,767.8 L1166.5,769.3 L1166.8,770.7 L1167.1,772.2 L1167.4,773.7 L1167.8,775.1 L1168.1,776.6 L1168.4,778.0 L1168.7,779.5 L1169.0,780.9 L1169.4,782.4 L1169.7,783.8 L1170.0,785.3 L1170.3,786.8 L1170.6,788.2 L1171.0,789.7 L1171.3,791.1 L1171.6,792.6 L1171.9,794.1 L1172.2,795.5 L1172.5,797.0 L1172.8,798.5 L1173.1,799.9 L1173.4,801.4 L1173.7,802.8 L1174.0,804.3 L1174.3,805.8 L1174.6,807.2 L1174.9,808.7 L1175.2,810.2 L1175.5,811.6 L1175.8,813.1 L1176.1,814.6 L1176.4,816.0 L1176.7,817.5 L1177.0,819.0 L1177.3,820.4 L1177.6,821.9 L1177.9,823.4 L1178.2,824.9 L1178.5,826.3 L1178.8,827.8 L1179.0,829.3 L1179.3,830.7 L1179.6,832.2 L1179.9,833.7 L1180.2,835.2 L1180.5,836.6 L1180.7,838.1 L1181.0,839.6 L1181.3,841.1 L1181.6,842.5 L1181.9,844.0 L1182.1,845.5 L1182.4,847.0 L1182.7,848.4 L1183.0,849.9 L1183.2,851.4 L1183.5,852.9 L1183.8,854.3 L1184.0,855.8 L1184.3,857.3 L1184.6,858.8 L1184.8,860.3 L1185.1,861.7 L1185.4,863.2 L1185.6,864.7 L1185.9,866.2 L1186.1,867.7 L1186.4,869.1 L1186.7,870.6 L1186.9,872.1 L1187.2,873.6 L1187.4,875.1 L1187.7,876.6 L1187.9,878.0 L1188.2,879.5 L1188.5,881.0 L1188.7,882.5 L1189.0,884.0 L1189.2,885.5 L1189.4,886.9 L1189.7,888.4 L1189.9,889.9 L1190.2,891.4 L1190.4,892.9 L1190.7,894.4 L1190.9,895.9 L1191.2,897.4 L1191.4,898.8 L1191.6,900.3 L1191.9,901.8 L1192.1,903.3 L1192.4,904.8 L1192.6,906.3 L1192.8,907.8 L1193.1,909.3 L1193.3,910.7 L1193.5,912.2 L1193.8,913.7 L1194.0,915.2 L1194.2,916.7 L1194.4,918.2 L1194.7,919.7 L1194.9,921.2 L1195.1,922.7 L1195.4,924.2 L1195.6,925.7 L1195.8,927.1 L1196.0,928.6 L1196.2,930.1 L1196.5,931.6 L1196.7,933.1 L1196.9,934.6 L1197.1,936.1 L1197.3,937.6 L1197.6,939.1 L1197.8,940.6 L1198.0,942.1 L1198.2,943.6 L1198.4,945.1 L1198.6,946.6 L1198.8,948.1 L1199.0,949.6 L1199.2,951.0 L1199.5,952.5 L1199.7,954.0 L1199.9,955.5 L1200.1,957.0 L1200.3,958.5 L1200.5,960.0 L1200.7,961.5 L1200.9,963.0 L1201.1,964.5 L1201.3,966.0 L1201.5,967.5 L1201.7,969.0 L1201.9,970.5 L1202.1,972.0 L1202.3,973.5 L1202.5,975.0 L1202.7,976.5 L1202.8,978.0 L1203.0,979.5 L1203.2,981.0 L1203.4,982.5 L1203.6,984.0 L1203.8,985.5 L1204.0,987.0 L1204.2,988.5 L1204.4,990.0 L1204.5,991.5 L1204.7,993.0 L1204.9,994.5 L1205.1,996.0 L1205.3,997.5 L1205.5,999.0 L1205.6,1000.5 L1205.8,1002.0 L1206.0,1003.5 L1206.2,1005.0 L1206.3,1006.5 L1206.5,1008.0 L1206.7,1009.5 L1206.9,1011.0 L1207.0,1012.5 L1207.2,1014.0 L1207.4,1015.5 L1207.6,1017.0 L1207.7,1018.5 L1207.9,1020.0 L1208.1,1021.5 L1208.2,1023.0 L1208.4,1024.5 L1208.6,1026.0 L1208.7,1027.5 L1208.9,1029.0 L1209.1,1030.5 L1209.2,1032.0 L1209.4,1033.5 L1209.5,1035.0 L1209.7,1036.5 L1209.9,1038.0 L1210.0,1039.5 L1210.2,1041.0 L1210.3,1042.5 L1210.5,1044.0 L1210.6,1045.5 L1210.8,1047.0 L1210.9,1048.5 L1211.1,1050.0 L1211.2,1051.5 L1211.4,1053.0 L1211.5,1054.5 L1211.7,1056.0 L1211.8,1057.5 L1212.0,1059.0 L1212.1,1060.5 L1212.3,1062.0 L1212.4,1063.5 L1212.6,1065.0 L1212.7,1066.5 L1212.9,1068.0 L1213.0,1069.5 L1213.1,1071.0 L1213.3,1072.5 L1213.4,1074.0 L1213.6,1075.5 L1213.7,1077.0 L1213.8,1078.5 L1214.0,1080.0 L1214.1,1081.5 L1214.2,1083.0 L1214.4,1084.5 L1214.5,1086.0 L1214.6,1087.5 L1214.8,1089.0 L1214.9,1090.5 L1215.0,1092.0 L1215.2,1093.5 L1215.3,1095.0 L1215.4,1096.5 L1215.5,1098.0 L1215.7,1099.5 L1215.8,1101.0 L1215.9,1102.5 L1216.0,1104.0 L1216.2,1105.5 L1216.3,1107.0 L1216.4,1108.5 L1216.5,1110.0 L1216.7,1111.5 L1216.8,1113.0 L1216.9,1114.5 L1217.0,1116.0 L1217.1,1117.5 L1217.2,1119.0 L1217.4,1120.5 L1217.5,1122.0 L1217.6,1123.5 L1217.7,1125.0 L1217.8,1126.5 L1217.9,1128.0 L1218.0,1129.5 L1218.2,1131.0 L1218.3,1132.5 L1218.4,1133.9 L1218.5,1135.4 L1218.6,1136.9 L1218.7,1138.4 L1218.8,1139.9 L1218.9,1141.4 L1219.0,1142.9 L1219.1,1144.4 L1219.2,1145.9 L1219.3,1147.4 L1219.4,1148.9 L1219.5,1150.4 L1219.6,1151.9 L1219.7,1153.4 L1219.8,1154.9 L1219.9,1156.4 L1220.0,1157.9 L1220.1,1159.4 L1220.2,1160.9 L1220.3,1162.3 L1220.4,1163.8 L1220.5,1165.3 L1220.6,1166.8 L1220.7,1168.3 L1220.8,1169.8 L1220.9,1171.3 L1221.0,1172.8 L1221.0,1174.3 L1221.1,1175.8 L1221.2,1177.3 L1221.3,1178.8 L1221.4,1180.2 L1221.5,1181.7 L1221.6,1183.2 L1221.7,1184.7 L1221.7,1186.2 L1221.8,1187.7 L1221.9,1189.2 L1222.0,1190.7 L1222.1,1192.2 L1222.1,1193.6 L1222.2,1195.1 L1222.3,1196.6 L1222.4,1198.1 L1222.5,1199.6 L1222.5,1201.1 L1222.6,1202.6 L1222.7,1204.0 L1222.8,1205.5 L1222.8,1207.0 L1222.9,1208.5 L1223.0,1210.0" stroke="#0000ff"/>
<path d="M1258.0,1210.0 C1258.3,1198.3 1258.5,1186.6 1259.0,1175.0 C1259.5,1163.6 1258.7,1143.2 1261.0,1141.0 C1261.6,1140.5 1262.4,1140.5 1263.0,1141.0 C1264.5,1142.3 1264.5,1151.0 1265.0,1155.0 C1265.4,1158.0 1265.6,1159.3 1266.0,1163.0 C1266.9,1171.8 1269.3,1200.9 1269.8,1207.0 C1269.9,1208.6 1269.9,1209.0 1270.0,1210.0" stroke="#0000ff"/>
<path d="M808.0,1210.0 L809.0,1208.9 L809.9,1207.7 L810.8,1206.6 L811.8,1205.4 L812.7,1204.2 L813.6,1203.1 L814.4,1201.9 L815.3,1200.7 L816.1,1199.5 L817.0,1198.3 L817.8,1197.0 L818.6,1195.8 L819.4,1194.6 L820.2,1193.3 L820.9,1192.1 L821.7,1190.8 L822.4,1189.6 L823.2,1188.3 L823.9,1187.0 L824.6,1185.7 L825.3,1184.4 L825.9,1183.2 L826.6,1181.8 L827.3,1180.5 L827.9,1179.2 L828.5,1177.9 L829.2,1176.6 L829.8,1175.2 L830.4,1173.9 L831.0,1172.5 L831.6,1171.2 L832.1,1169.8 L832.7,1168.5 L833.2,1167.1 L833.8,1165.7 L834.3,1164.4 L834.8,1163.0 L835.4,1161.6 L835.9,1160.2 L836.4,1158.8 L836.9,1157.4 L837.4,1156.0 L837.8,1154.6 L838.3,1153.2 L838.8,1151.8 L839.2,1150.3 L839.7,1148.9 L840.1,1147.5 L840.5,1146.0 L841.0,1144.6 L841.4,1143.2 L841.8,1141.7 L842.2,1140.3 L842.6,1138.8 L843.0,1137.4 L843.4,1135.9 L843.8,1134.5 L844.2,1133.0 L844.6,1131.5 L845.0,1130.1 L845.3,1128.6 L845.7,1127.1 L846.1,1125.7 L846.4,1124.2 L846.8,1122.7 L847.2,1121.3 L847.5,1119.8 L847.9,1118.3 L848.2,1116.8 L848.6,1115.3 L848.9,1113.9 L849.2,1112.4 L849.6,1110.9 L849.9,1109.4 L850.3,1107.9 L850.6,1106.4 L850.9,1104.9 L851.3,1103.5 L851.6,1102.0 L851.9,1100.5 L852.3,1099.0 L852.6,1097.5 L852.9,1096.0 L853.3,1094.5 L853.6,1093.0 L853.9,1091.6 L854.3,1090.1 L854.6,1088.6 L855.0,1087.1 L855.3,1085.6 L855.7,1084.1 L856.0,1082.7 L856.3,1081.2 L856.7,1079.7 L857.0,1078.2 L857.4,1076.7 L857.8,1075.3 L858.1,1073.8 L858.5,1072.3 L858.8,1070.8 L859.2,1069.4 L859.6,1067.9 L859.9,1066.4 L860.3,1065.0 L860.7,1063.5 L861.0,1062.0 L861.4,1060.6 L861.8,1059.1 L862.2,1057.6 L862.5,1056.2 L862.9,1054.7 L863.3,1053.3 L863.7,1051.8 L864.1,1050.3 L864.4,1048.9 L864.8,1047.4 L865.2,1046.0 L865.6,1044.5 L866.0,1043.0 L866.4,1041.6 L866.8,1040.1 L867.2,1038.7 L867.6,1037.2 L868.0,1035.8 L868.4,1034.3 L868.8,1032.9 L869.2,1031.4 L869.6,1030.0 L870.0,1028.5 L870.4,1027.1 L870.8,1025.6 L871.2,1024.2 L871.6,1022.8 L872.0,1021.3 L872.4,1019.9 L872.8,1018.4 L873.3,1017.0 L873.7,1015.5 L874.1,1014.1 L874.5,1012.7 L874.9,1011.2 L875.3,1009.8 L875.8,1008.3 L876.2,1006.9 L876.6,1005.5 L877.0,1004.0 L877.5,1002.6 L877.9,1001.1 L878.3,999.7 L878.7,998.3 L879.2,996.8 L879.6,995.4 L880.0,994.0 L880.5,992.5 L880.9,991.1 L881.3,989.7 L881.8,988.2 L882.2,986.8 L882.6,985.4 L883.1,983.9 L883.5,982.5 L884.0,981.1 L884.4,979.7 L884.8,978.2 L885.3,976.8 L885.7,975.4 L886.2,973.9 L886.6,972.5 L887.1,971.1 L887.5,969.6 L888.0,968.2 L888.4,966.8 L888.9,965.4 L889.3,963.9 L889.8,962.5 L890.2,961.1 L890.7,959.7 L891.1,958.2 L891.6,956.8 L892.0,955.4 L892.5,953.9 L892.9,952.5 L893.4,951.1 L893.8,949.7 L894.3,948.2 L894.7,946.8 L895.2,945.4 L895.7,944.0 L896.1,942.5 L896.6,941.1 L897.0,939.7 L897.5,938.3 L897.9,936.8 L898.4,935.4 L898.9,934.0 L899.3,932.6 L899.8,931.1 L900.2,929.7 L900.7,928.3 L901.2,926.9 L901.6,925.4 L902.1,924.0 L902.6,922.6 L903.0,921.2 L903.5,919.7 L903.9,918.3 L904.4,916.9 L904.9,915.5 L905.3,914.0 L905.8,912.6 L906.3,911.2 L906.7,909.7 L907.2,908.3 L907.7,906.9 L908.1,905.5 L908.6,904.0 L909.1,902.6 L909.5,901.2 L910.0,899.8 L910.4,898.3 L910.9,896.9 L911.4,895.5 L911.8,894.0 L912.3,892.6 L912.8,891.2 L913.2,889.7 L913.7,888.3 L914.2,886.9 L914.6,885.4 L915.1,884.0 L915.6,882.6 L916.0,881.1 L916.5,879.7 L917.0,878.3 L917.4,876.8 L917.9,875.4 L918.3,874.0 L918.8,872.5 L919.3,871.1 L919.7,869.7 L920.2,868.2 L920.7,866.8 L921.1,865.4 L921.6,863.9 L922.1,862.5 L922.5,861.1 L923.0,859.6 L923.5,858.2 L924.0,856.8 L924.4,855.3 L924.9,853.9 L925.4,852.5 L925.9,851.0 L926.3,849.6 L926.8,848.2 L927.3,846.7 L927.8,845.3 L928.3,843.9 L928.8,842.4 L929.2,841.0 L929.7,839.6 L930.2,838.2 L930.7,836.7 L931.2,835.3 L931.7,833.9 L932.2,832.5 L932.7,831.0 L933.2,829.6 L933.7,828.2 L934.3,826.8 L934.8,825.4 L935.3,824.0 L935.8,822.5 L936.3,821.1 L936.8,819.7 L937.4,818.3 L937.9,816.9 L938.4,815.5 L939.0,814.1 L939.5,812.7 L940.1,811.3 L940.6,809.9 L941.2,808.5 L941.7,807.1 L942.3,805.7 L942.8,804.3 L943.4,802.9 L944.0,801.5 L944.5,800.1 L945.1,798.7 L945.7,797.3 L946.3,796.0 L946.9,794.6 L947.5,793.2 L948.1,791.8 L948.7,790.4 L949.3,789.1 L949.9,787.7 L950.5,786.3 L951.1,785.0 L951.7,783.6 L952.4,782.2 L953.0,780.9 L953.6,779.5 L954.3,778.2 L954.9,776.8 L955.6,775.5 L956.3,774.1 L956.9,772.8 L957.6,771.5 L958.3,770.1 L959.0,768.8 L959.6,767.5 L960.3,766.1 L961.0,764.8 L961.7,763.5 L962.5,762.2 L963.2,760.8 L963.9,759.5 L964.6,758.2 L965.4,756.9 L966.1,755.6 L966.8,754.3 L967.6,753.0 L968.4,751.7 L969.1,750.4 L969.9,749.1 L970.7,747.9 L971.5,746.6 L972.3,745.3 L973.1,744.0 L973.9,742.8 L974.7,741.5 L975.5,740.2 L976.3,739.0 L977.2,737.7 L978.0,736.5 L978.9,735.2 L979.7,734.0 L980.6,732.8 L981.5,731.5 L982.4,730.3 L983.2,729.1 L984.1,727.8 L985.0,726.6 L986.0,725.4 L986.9,724.2 L987.8,723.0 L988.7,721.8 L989.7,720.6 L990.6,719.4 L991.6,718.2 L992.6,717.0 L993.6,715.9 L994.5,714.7 L995.5,713.5 L996.5,712.4 L997.6,711.2 L998.6,710.0 L999.6,708.9 L1000.7,707.8 L1001.7,706.6 L1002.8,705.5 L1003.8,704.3 L1004.9,703.2 L1006.0,702.1 L1007.1,701.0 L1008.2,699.9 L1009.3,698.8 L1010.4,697.7 L1011.6,696.6 L1012.7,695.6 L1013.9,694.5 L1015.0,693.5 L1016.2,692.4 L1017.4,691.4 L1018.5,690.4 L1019.7,689.4 L1020.9,688.5 L1022.1,687.5 L1023.4,686.6 L1024.6,685.7 L1025.8,684.8 L1027.1,683.9 L1028.3,683.1 L1029.6,682.3 L1030.8,681.5 L1032.1,680.7 L1033.4,679.9 L1034.7,679.2 L1036.0,678.5 L1037.3,677.9 L1038.6,677.2 L1039.9,676.6 L1041.2,676.1 L1042.5,675.5 L1043.9,675.0 L1045.2,674.6 L1046.5,674.1 L1047.9,673.7 L1049.3,673.4 L1050.6,673.0 L1052.0,672.8 L1053.4,672.5 L1054.8,672.3 L1056.2,672.1 L1057.6,672.0 L1059.0,671.9 L1060.4,671.9 L1061.8,671.9 L1063.2,672.0 L1064.6,672.1 L1066.1,672.2 L1067.5,672.4 L1069.0,672.7 L1070.4,672.9 L1071.8,673.3 L1073.2,673.6 L1074.7,674.0 L1076.1,674.5 L1077.5,675.0 L1078.9,675.5 L1080.2,676.0 L1081.6,676.6 L1082.9,677.2 L1084.3,677.9 L1085.6,678.6 L1086.9,679.3 L1088.2,680.1 L1089.4,680.8 L1090.7,681.7 L1091.9,682.5 L1093.1,683.4 L1094.4,684.3 L1095.5,685.2 L1096.7,686.1 L1097.9,687.1 L1099.0,688.1 L1100.2,689.1 L1101.3,690.1 L1102.4,691.2 L1103.5,692.3 L1104.6,693.4 L1105.7,694.5 L1106.7,695.6 L1107.7,696.8 L1108.8,698.0 L1109.8,699.2 L1110.8,700.4 L1111.7,701.6 L1112.7,702.8 L1113.7,704.0 L1114.6,705.3 L1115.5,706.6 L1116.4,707.8 L1117.3,709.1 L1118.2,710.4 L1119.1,711.7 L1119.9,713.0 L1120.8,714.3 L1121.6,715.7 L1122.4,717.0 L1123.2,718.3 L1124.0,719.7 L1124.7,721.0 L1125.5,722.3 L1126.2,723.7 L1127.0,725.0 L1127.7,726.4 L1128.4,727.7 L1129.1,729.1 L1129.7,730.4 L1130.4,731.8 L1131.1,733.2 L1131.7,734.5 L1132.4,735.9 L1133.0,737.3 L1133.6,738.6 L1134.2,740.0 L1134.8,741.4 L1135.4,742.8 L1136.0,744.1 L1136.5,745.5 L1137.1,746.9 L1137.7,748.3 L1138.2,749.7 L1138.7,751.1 L1139.3,752.5 L1139.8,753.9 L1140.3,755.2 L1140.8,756.6 L1141.3,758.0 L1141.8,759.4 L1142.3,760.8 L1142.8,762.3 L1143.3,763.7 L1143.8,765.1 L1144.3,766.5 L1144.7,767.9 L1145.2,769.3 L1145.7,770.7 L1146.1,772.1 L1146.6,773.5 L1147.0,774.9 L1147.5,776.4 L1148.0,777.8 L1148.4,779.2 L1148.9,780.6 L1149.3,782.0 L1149.7,783.4 L1150.2,784.9 L1150.6,786.3 L1151.1,787.7 L1151.5,789.1 L1151.9,790.6 L1152.4,792.0 L1152.8,793.4 L1153.2,794.8 L1153.7,796.3 L1154.1,797.7 L1154.5,799.1 L1154.9,800.5 L1155.3,802.0 L1155.8,803.4 L1156.2,804.8 L1156.6,806.3 L1157.0,807.7 L1157.4,809.1 L1157.8,810.6 L1158.2,812.0 L1158.6,813.4 L1159.0,814.9 L1159.4,816.3 L1159.8,817.8 L1160.2,819.2 L1160.6,820.6 L1161.0,822.1 L1161.4,823.5 L1161.7,825.0 L1162.1,826.4 L1162.5,827.8 L1162.9,829.3 L1163.3,830.7 L1163.6,832.2 L1164.0,833.6 L1164.4,835.1 L1164.8,836.5 L1165.1,838.0 L1165.5,839.4 L1165.9,840.9 L1166.2,842.3 L1166.6,843.8 L1167.0,845.2 L1167.3,846.7 L1167.7,848.1 L1168.0,849.6 L1168.4,851.0 L1168.7,852.5 L1169.1,854.0 L1169.4,855.4 L1169.8,856.9 L1170.1,858.3 L1170.5,859.8 L1170.8,861.3 L1171.1,862.7 L1171.5,864.2 L1171.8,865.6 L1172.1,867.1 L1172.5,868.6 L1172.8,870.0 L1173.1,871.5 L1173.5,872.9 L1173.8,874.4 L1174.1,875.9 L1174.4,877.3 L1174.7,878.8 L1175.1,880.3 L1175.4,881.7 L1175.7,883.2 L1176.0,884.7 L1176.3,886.2 L1176.6,887.6 L1176.9,889.1 L1177.2,890.6 L1177.6,892.0 L1177.9,893.5 L1178.2,895.0 L1178.5,896.5 L1178.8,897.9 L1179.1,899.4 L1179.4,900.9 L1179.7,902.3 L1179.9,903.8 L1180.2,905.3 L1180.5,906.8 L1180.8,908.3 L1181.1,909.7 L1181.4,911.2 L1181.7,912.7 L1182.0,914.2 L1182.2,915.6 L1182.5,917.1 L1182.8,918.6 L1183.1,920.1 L1183.3,921.6 L1183.6,923.0 L1183.9,924.5 L1184.2,926.0 L1184.4,927.5 L1184.7,929.0 L1185.0,930.5 L1185.2,931.9 L1185.5,933.4 L1185.8,934.9 L1186.0,936.4 L1186.3,937.9 L1186.5,939.4 L1186.8,940.9 L1187.0,942.3 L1187.3,943.8 L1187.6,945.3 L1187.8,946.8 L1188.1,948.3 L1188.3,949.8 L1188.6,951.3 L1188.8,952.8 L1189.0,954.2 L1189.3,955.7 L1189.5,957.2 L1189.8,958.7 L1190.0,960.2 L1190.3,961.7 L1190.5,963.2 L1190.7,964.7 L1191.0,966.2 L1191.2,967.7 L1191.4,969.2 L1191.7,970.7 L1191.9,972.1 L1192.1,973.6 L1192.3,975.1 L1192.6,976.6 L1192.8,978.1 L1193.0,979.6 L1193.2,981.1 L1193.5,982.6 L1193.7,984.1 L1193.9,985.6 L1194.1,987.1 L1194.3,988.6 L1194.6,990.1 L1194.8,991.6 L1195.0,993.1 L1195.2,994.6 L1195.4,996.1 L1195.6,997.6 L1195.8,999.1 L1196.0,1000.6 L1196.3,1002.1 L1196.5,1003.6 L1196.7,1005.1 L1196.9,1006.6 L1197.1,1008.0 L1197.3,1009.5 L1197.5,1011.0 L1197.7,1012.5 L1197.9,1014.0 L1198.1,1015.5 L1198.3,1017.0 L1198.5,1018.5 L1198.7,1020.0 L1198.9,1021.5 L1199.1,1023.0 L1199.2,1024.5 L1199.4,1026.0 L1199.6,1027.5 L1199.8,1029.0 L1200.0,1030.5 L1200.2,1032.0 L1200.4,1033.5 L1200.6,1035.0 L1200.8,1036.5 L1200.9,1038.0 L1201.1,1039.5 L1201.3,1041.0 L1201.5,1042.5 L1201.7,1044.0 L1201.8,1045.6 L1202.0,1047.1 L1202.2,1048.6 L1202.4,1050.1 L1202.6,1051.6 L1202.7,1053.1 L1202.9,1054.6 L1203.1,1056.1 L1203.3,1057.6 L1203.4,1059.1 L1203.6,1060.6 L1203.8,1062.1 L1203.9,1063.6 L1204.1,1065.1 L1204.3,1066.6 L1204.4,1068.1 L1204.6,1069.6 L1204.8,1071.1 L1204.9,1072.6 L1205.1,1074.1 L1205.3,1075.6 L1205.4,1077.1 L1205.6,1078.6 L1205.8,1080.1 L1205.9,1081.6 L1206.1,1083.1 L1206.2,1084.6 L1206.4,1086.1 L1206.6,1087.6 L1206.7,1089.1 L1206.9,1090.6 L1207.0,1092.1 L1207.2,1093.6 L1207.3,1095.1 L1207.5,1096.6 L1207.7,1098.1 L1207.8,1099.6 L1208.0,1101.1 L1208.1,1102.6 L1208.3,1104.1 L1208.4,1105.6 L1208.6,1107.1 L1208.7,1108.6 L1208.9,1110.1 L1209.0,1111.6 L1209.2,1113.1 L1209.3,1114.6 L1209.5,1116.1 L1209.6,1117.6 L1209.8,1119.1 L1209.9,1120.6 L1210.0,1122.1 L1210.2,1123.6 L1210.3,1125.1 L1210.5,1126.6 L1210.6,1128.1 L1210.8,1129.6 L1210.9,1131.1 L1211.0,1132.6 L1211.2,1134.1 L1211.3,1135.6 L1211.5,1137.0 L1211.6,1138.5 L1211.8,1140.0 L1211.9,1141.5 L1212.0,1143.0 L1212.2,1144.5 L1212.3,1146.0 L1212.4,1147.5 L1212.6,1149.0 L1212.7,1150.5 L1212.9,1152.0 L1213.0,1153.5 L1213.1,1155.0 L1213.3,1156.5 L1213.4,1158.0 L1213.5,1159.5 L1213.7,1161.0 L1213.8,1162.4 L1213.9,1163.9 L1214.1,1165.4 L1214.2,1166.9 L1214.3,1168.4 L1214.5,1169.9 L1214.6,1171.4 L1214.7,1172.9 L1214.9,1174.4 L1215.0,1175.9 L1215.1,1177.3 L1215.3,1178.8 L1215.4,1180.3 L1215.5,1181.8 L1215.7,1183.3 L1215.8,1184.8 L1215.9,1186.3 L1216.1,1187.8 L1216.2,1189.2 L1216.3,1190.7 L1216.5,1192.2 L1216.6,1193.7 L1216.7,1195.2 L1216.8,1196.7 L1217.0,1198.1 L1217.1,1199.6 L1217.2,1201.1 L1217.4,1202.6 L1217.5,1204.1 L1217.6,1205.6 L1217.7,1207.0 L1217.9,1208.5 L1218.0,1210.0" stroke="#00ffff"/>
<path d="M1260.0,1210.0 C1260.5,1207.3 1260.4,1202.9 1261.5,1202.0 C1262.0,1201.6 1263.0,1201.6 1263.5,1202.0 C1264.6,1202.9 1264.5,1207.3 1265.0,1210.0" stroke="#00ffff"/>
<path d="M864.9,1209.9 L866.3,1209.1 L867.6,1208.3 L868.9,1207.4 L870.1,1206.5 L871.4,1205.6 L872.6,1204.7 L873.8,1203.8 L875.0,1202.9 L876.2,1201.9 L877.4,1201.0 L878.5,1200.0 L879.6,1199.0 L880.8,1198.0 L881.9,1197.0 L883.0,1196.0 L884.0,1195.0 L885.1,1193.9 L886.1,1192.9 L887.2,1191.8 L888.2,1190.7 L889.2,1189.6 L890.2,1188.5 L891.2,1187.4 L892.1,1186.3 L893.1,1185.2 L894.0,1184.0 L895.0,1182.9 L895.9,1181.7 L896.8,1180.6 L897.7,1179.4 L898.6,1178.2 L899.5,1177.0 L900.4,1175.9 L901.3,1174.7 L902.1,1173.5 L903.0,1172.2 L903.8,1171.0 L904.7,1169.8 L905.5,1168.6 L906.3,1167.3 L907.1,1166.1 L907.9,1164.9 L908.8,1163.6 L909.6,1162.4 L910.4,1161.1 L911.1,1159.8 L911.9,1158.6 L912.7,1157.3 L913.5,1156.0 L914.3,1154.8 L915.1,1153.5 L915.8,1152.2 L916.6,1150.9 L917.4,1149.6 L918.1,1148.4 L918.9,1147.1 L919.7,1145.8 L920.4,1144.5 L921.2,1143.2 L921.9,1141.9 L922.7,1140.6 L923.4,1139.3 L924.2,1138.0 L924.9,1136.7 L925.6,1135.4 L926.4,1134.1 L927.1,1132.8 L927.9,1131.5 L928.6,1130.2 L929.3,1128.9 L930.0,1127.5 L930.8,1126.2 L931.5,1124.9 L932.2,1123.6 L932.9,1122.3 L933.7,1120.9 L934.4,1119.6 L935.1,1118.3 L935.8,1117.0 L936.5,1115.6 L937.2,1114.3 L937.9,1113.0 L938.6,1111.7 L939.3,1110.3 L940.0,1109.0 L940.7,1107.7 L941.4,1106.3 L942.1,1105.0 L942.8,1103.6 L943.5,1102.3 L944.2,1101.0 L944.9,1099.6 L945.6,1098.3 L946.3,1096.9 L947.0,1095.6 L947.7,1094.3 L948.4,1092.9 L949.1,1091.6 L949.7,1090.2 L950.4,1088.9 L951.1,1087.5 L951.8,1086.2 L952.5,1084.8 L953.1,1083.5 L953.8,1082.1 L954.5,1080.8 L955.2,1079.4 L955.9,1078.1 L956.5,1076.7 L957.2,1075.4 L957.9,1074.0 L958.5,1072.7 L959.2,1071.3 L959.9,1070.0 L960.6,1068.6 L961.2,1067.2 L961.9,1065.9 L962.6,1064.5 L963.2,1063.2 L963.9,1061.8 L964.6,1060.5 L965.2,1059.1 L965.9,1057.8 L966.6,1056.4 L967.2,1055.1 L967.9,1053.7 L968.6,1052.3 L969.2,1051.0 L969.9,1049.6 L970.5,1048.3 L971.2,1046.9 L971.9,1045.6 L972.5,1044.2 L973.2,1042.9 L973.9,1041.5 L974.5,1040.2 L975.2,1038.8 L975.8,1037.5 L976.5,1036.1 L977.2,1034.8 L977.8,1033.4 L978.5,1032.1 L979.2,1030.7 L979.8,1029.4 L980.5,1028.0 L981.2,1026.7 L981.8,1025.3 L982.5,1024.0 L983.2,1022.7 L983.8,1021.3 L984.5,1020.0 L985.2,1018.6 L985.8,1017.3 L986.5,1016.0 L987.2,1014.6 L987.8,1013.3 L988.5,1011.9 L989.2,1010.6 L989.8,1009.3 L990.5,1007.9 L991.2,1006.6 L991.9,1005.3 L992.5,1004.0 L993.2,1002.6 L993.9,1001.3 L994.6,1000.0 L995.2,998.7 L995.9,997.3 L996.6,996.0 L997.3,994.7 L998.0,993.4 L998.7,992.1 L999.4,990.8 L1000.1,989.4 L1000.8,988.1 L1001.5,986.8 L1002.2,985.5 L1002.9,984.2 L1003.6,982.9 L1004.4,981.6 L1005.1,980.3 L1005.8,979.0 L1006.5,977.8 L1007.3,976.5 L1008.0,975.2 L1008.8,973.9 L1009.5,972.6 L1010.3,971.3 L1011.0,970.1 L1011.8,968.8 L1012.6,967.5 L1013.4,966.2 L1014.1,965.0 L1014.9,963.7 L1015.7,962.5 L1016.5,961.2 L1017.3,959.9 L1018.2,958.7 L1019.0,957.4 L1019.8,956.2 L1020.6,955.0 L1021.5,953.7 L1022.3,952.5 L1023.2,951.3 L1024.1,950.0 L1024.9,948.8 L1025.8,947.6 L1026.7,946.4 L1027.6,945.2 L1028.5,943.9 L1029.4,942.7 L1030.4,941.5 L1031.3,940.3 L1032.2,939.1 L1033.2,937.9 L1034.2,936.8 L1035.1,935.6 L1036.1,934.4 L1037.1,933.2 L1038.1,932.0 L1039.1,930.9 L1040.1,929.7 L1041.2,928.6 L1042.2,927.4 L1043.2,926.3 L1044.3,925.1 L1045.4,924.0 L1046.5,922.8 L1047.6,921.7 L1048.7,920.6 L1049.8,919.4 L1050.9,918.3 L1052.1,917.2 L1053.2,916.1 L1054.4,915.1 L1055.6,914.0 L1056.8,913.0 L1058.0,911.9 L1059.2,910.9 L1060.4,910.0 L1061.6,909.0 L1062.8,908.1 L1064.1,907.3 L1065.3,906.4 L1066.6,905.6 L1067.9,904.9 L1069.2,904.2 L1070.5,903.5 L1071.8,902.9 L1073.1,902.4 L1074.4,901.9 L1075.7,901.4 L1077.1,901.0 L1078.4,900.7 L1079.8,900.4 L1081.1,900.3 L1082.5,900.1 L1083.9,900.1 L1085.3,900.1 L1086.6,900.1 L1088.0,900.3 L1089.4,900.4 L1090.8,900.7 L1092.2,901.0 L1093.6,901.3 L1094.9,901.7 L1096.3,902.2 L1097.7,902.7 L1099.0,903.2 L1100.4,903.8 L1101.7,904.4 L1103.1,905.1 L1104.4,905.8 L1105.7,906.6 L1107.0,907.4 L1108.2,908.2 L1109.5,909.1 L1110.7,909.9 L1112.0,910.9 L1113.2,911.8 L1114.4,912.8 L1115.5,913.8 L1116.6,914.8 L1117.8,915.9 L1118.8,917.0 L1119.9,918.1 L1120.9,919.2 L1121.9,920.3 L1122.9,921.5 L1123.9,922.6 L1124.8,923.8 L1125.7,925.0 L1126.6,926.2 L1127.4,927.4 L1128.3,928.7 L1129.1,929.9 L1129.9,931.2 L1130.7,932.5 L1131.5,933.8 L1132.2,935.1 L1132.9,936.4 L1133.7,937.7 L1134.4,939.1 L1135.0,940.4 L1135.7,941.8 L1136.4,943.2 L1137.0,944.5 L1137.6,945.9 L1138.3,947.3 L1138.9,948.7 L1139.5,950.1 L1140.1,951.5 L1140.6,952.9 L1141.2,954.3 L1141.8,955.7 L1142.3,957.2 L1142.9,958.6 L1143.4,960.0 L1144.0,961.4 L1144.5,962.9 L1145.0,964.3 L1145.6,965.7 L1146.1,967.1 L1146.6,968.6 L1147.1,970.0 L1147.6,971.4 L1148.1,972.8 L1148.6,974.3 L1149.1,975.7 L1149.6,977.1 L1150.1,978.6 L1150.6,980.0 L1151.1,981.4 L1151.6,982.9 L1152.1,984.3 L1152.5,985.7 L1153.0,987.2 L1153.5,988.6 L1153.9,990.1 L1154.4,991.5 L1154.8,992.9 L1155.3,994.4 L1155.7,995.8 L1156.2,997.3 L1156.6,998.7 L1157.1,1000.1 L1157.5,1001.6 L1157.9,1003.0 L1158.4,1004.5 L1158.8,1005.9 L1159.2,1007.3 L1159.6,1008.8 L1160.1,1010.2 L1160.5,1011.7 L1160.9,1013.1 L1161.3,1014.6 L1161.7,1016.0 L1162.1,1017.5 L1162.5,1018.9 L1162.9,1020.4 L1163.3,1021.8 L1163.7,1023.3 L1164.0,1024.7 L1164.4,1026.2 L1164.8,1027.6 L1165.2,1029.1 L1165.6,1030.5 L1165.9,1032.0 L1166.3,1033.4 L1166.7,1034.9 L1167.0,1036.3 L1167.4,1037.8 L1167.8,1039.2 L1168.1,1040.7 L1168.5,1042.1 L1168.8,1043.6 L1169.2,1045.1 L1169.5,1046.5 L1169.9,1048.0 L1170.2,1049.4 L1170.6,1050.9 L1170.9,1052.3 L1171.3,1053.8 L1171.6,1055.3 L1171.9,1056.7 L1172.3,1058.2 L1172.6,1059.6 L1172.9,1061.1 L1173.2,1062.6 L1173.6,1064.0 L1173.9,1065.5 L1174.2,1066.9 L1174.5,1068.4 L1174.8,1069.9 L1175.2,1071.3 L1175.5,1072.8 L1175.8,1074.3 L1176.1,1075.7 L1176.4,1077.2 L1176.7,1078.7 L1177.0,1080.1 L1177.3,1081.6 L1177.6,1083.0 L1177.9,1084.5 L1178.2,1086.0 L1178.5,1087.4 L1178.8,1088.9 L1179.1,1090.4 L1179.4,1091.9 L1179.7,1093.3 L1180.0,1094.8 L1180.3,1096.3 L1180.6,1097.7 L1180.8,1099.2 L1181.1,1100.7 L1181.4,1102.1 L1181.7,1103.6 L1182.0,1105.1 L1182.3,1106.5 L1182.6,1108.0 L1182.8,1109.5 L1183.1,1111.0 L1183.4,1112.4 L1183.7,1113.9 L1183.9,1115.4 L1184.2,1116.9 L1184.5,1118.3 L1184.8,1119.8 L1185.1,1121.3 L1185.3,1122.7 L1185.6,1124.2 L1185.9,1125.7 L1186.1,1127.2 L1186.4,1128.6 L1186.7,1130.1 L1187.0,1131.6 L1187.2,1133.1 L1187.5,1134.5 L1187.8,1136.0 L1188.0,1137.5 L1188.3,1139.0 L1188.6,1140.4 L1188.8,1141.9 L1189.1,1143.4 L1189.4,1144.9 L1189.7,1146.4 L1189.9,1147.8 L1190.2,1149.3 L1190.5,1150.8 L1190.7,1152.3 L1191.0,1153.7 L1191.3,1155.2 L1191.5,1156.7 L1191.8,1158.2 L1192.1,1159.7 L1192.3,1161.1 L1192.6,1162.6 L1192.9,1164.1 L1193.2,1165.6 L1193.4,1167.1 L1193.7,1168.5 L1194.0,1170.0 L1194.2,1171.5 L1194.5,1173.0 L1194.8,1174.5 L1195.1,1175.9 L1195.3,1177.4 L1195.6,1178.9 L1195.9,1180.4 L1196.2,1181.9 L1196.4,1183.3 L1196.7,1184.8 L1197.0,1186.3 L1197.3,1187.8 L1197.6,1189.3 L1197.8,1190.7 L1198.1,1192.2 L1198.4,1193.7 L1198.7,1195.2 L1199.0,1196.7 L1199.3,1198.2 L1199.5,1199.6 L1199.8,1201.1 L1200.1,1202.6 L1200.4,1204.1 L1200.7,1205.6 L1201.0,1207.0 L1201.3,1208.5 L1201.6,1210.0" stroke="#ff00ff"/>
</g>
<g stroke="#000" fill="none" stroke-linecap="butt">
<path d="M320.7,112 V1220.7" stroke-width="2.6"/>
<path d="M1694.5,112 V1220.7" stroke-width="2.7"/>
<path d="M319.4,113.3 H444.5 M469,113.3 H1542.5 M1568,113.3 H1695.8" stroke-width="2.8"/>
<path d="M319.4,1218 H447.5 M471,1218 H1545.5 M1570,1218 H1695.8" stroke-width="5.4"/>
<path d="M320.8,1220 V1242.5 M425.6,1220 V1242.5 M425.6,113 V136 M529.0,1220 V1242.5 M529.0,113 V136 M648.4,1220 V1242.5 M648.4,113 V136 M767.9,1220 V1242.5 M767.9,113 V136 M887.3,1220 V1242.5 M887.3,113 V136 M1006.8,1220 V1242.5 M1006.8,113 V136 M1126.2,1220 V1242.5 M1126.2,113 V136 M1245.6,1220 V1242.5 M1245.6,113 V136 M1365.1,1220 V1242.5 M1365.1,113 V136 M1484.5,1220 V1242.5 M1484.5,113 V136 M1589.3,1220 V1242.5 M1589.3,113 V136 M1694.5,1220 V1242.5 M372.5,1220 V1231.5 M372.5,113 V125 M469.3,1220 V1231.5 M469.3,113 V125 M588.7,1220 V1231.5 M588.7,113 V125 M708.2,1220 V1231.5 M708.2,113 V125 M827.6,1220 V1231.5 M827.6,113 V125 M947.0,1220 V1231.5 M947.0,113 V125 M1066.5,1220 V1231.5 M1066.5,113 V125 M1185.9,1220 V1231.5 M1185.9,113 V125 M1305.4,1220 V1231.5 M1305.4,113 V125 M1424.8,1220 V1231.5 M1424.8,113 V125 M1544.2,1220 V1231.5 M1544.2,113 V125 M1641.0,1220 V1231.5 M1641.0,113 V125" stroke-width="3.6"/>
<path d="M297.8,1209.8 H320.7 M1694.5,1209.8 H1671.5 M308.8,1122.1 H320.7 M1694.5,1122.1 H1683 M297.8,1034.4 H320.7 M1694.5,1034.4 H1671.5 M308.8,946.7 H320.7 M1694.5,946.7 H1683 M297.8,859.1 H320.7 M1694.5,859.1 H1671.5 M308.8,771.4 H320.7 M1694.5,771.4 H1683 M297.8,683.7 H320.7 M1694.5,683.7 H1671.5 M308.8,596.0 H320.7 M1694.5,596.0 H1683 M297.8,508.3 H320.7 M1694.5,508.3 H1671.5 M308.8,420.6 H320.7 M1694.5,420.6 H1683 M297.8,332.9 H320.7 M1694.5,332.9 H1671.5 M308.8,245.3 H320.7 M1694.5,245.3 H1683 M297.8,157.6 H320.7 M1694.5,157.6 H1671.5" stroke-width="3"/>
</g>
<g stroke="#f2ff00" stroke-width="5.8" fill="none">
<path d="M320.8,1209.8 H445 M469.7,1209.8 H1542.9 M1567.9,1209.8 H1693.5"/>
</g>
<path d="M1246.2,113 V1218" stroke="#000" stroke-width="3.6" stroke-dasharray="14 12.58" fill="none"/>
<line x1="431" y1="135.5" x2="457" y2="91" stroke="#000" stroke-width="3" stroke-linecap="butt"/>
<line x1="456" y1="135.5" x2="482" y2="91" stroke="#000" stroke-width="3" stroke-linecap="butt"/>
<line x1="434" y1="1242" x2="459.5" y2="1197" stroke="#000" stroke-width="3" stroke-linecap="butt"/>
<line x1="458" y1="1242" x2="482.5" y2="1197" stroke="#000" stroke-width="3" stroke-linecap="butt"/>
<line x1="1530.6" y1="135.5" x2="1556" y2="90.6" stroke="#000" stroke-width="3" stroke-linecap="butt"/>
<line x1="1555.5" y1="135.5" x2="1580.4" y2="90.6" stroke="#000" stroke-width="3" stroke-linecap="butt"/>
<line x1="1532" y1="1242" x2="1558" y2="1197" stroke="#000" stroke-width="3" stroke-linecap="butt"/>
<line x1="1554.8" y1="1242" x2="1583.3" y2="1197" stroke="#000" stroke-width="3" stroke-linecap="butt"/>
<line x1="478.4" y1="686.3" x2="582.0" y2="691.8" stroke="#000" stroke-width="2.6"/><polygon points="607.0,693.1 579.6,699.7 580.5,683.7" fill="#000"/>
<line x1="587.7" y1="771.3" x2="711.7" y2="795.3" stroke="#000" stroke-width="2.6"/><polygon points="736.2,800.1 708.2,802.8 711.2,787.1" fill="#000"/>
<line x1="580.9" y1="858.6" x2="773.3" y2="893.7" stroke="#000" stroke-width="2.6"/><polygon points="797.9,898.2 769.9,901.2 772.8,885.5" fill="#000"/>
<line x1="582.0" y1="945.2" x2="799.4" y2="997.1" stroke="#000" stroke-width="2.6"/><polygon points="823.7,1002.9 795.6,1004.4 799.3,988.8" fill="#000"/>
<line x1="582.0" y1="1034.0" x2="827.4" y2="1090.2" stroke="#000" stroke-width="2.6"/><polygon points="851.8,1095.8 823.7,1097.6 827.3,1082.0" fill="#000"/>
<line x1="582.0" y1="1095.8" x2="883.5" y2="1165.1" stroke="#000" stroke-width="2.6"/><polygon points="907.9,1170.7 879.8,1172.4 883.4,1156.9" fill="#000"/>
<line x1="1458.3" y1="891.9" x2="1410.0" y2="905.2" stroke="#000" stroke-width="2.6"/><polygon points="1385.9,911.9 1409.8,897.0 1414.1,912.4" fill="#000"/>
<line x1="1455.8" y1="974.2" x2="1292.3" y2="985.5" stroke="#000" stroke-width="2.6"/><polygon points="1267.4,987.2 1293.8,977.4 1294.9,993.3" fill="#000"/>
<line x1="1460.8" y1="1060.8" x2="1289.8" y2="1077.6" stroke="#000" stroke-width="2.6"/><polygon points="1264.9,1080.0 1291.0,1069.4 1292.6,1085.3" fill="#000"/>
<line x1="1455.8" y1="1142.6" x2="1289.9" y2="1150.6" stroke="#000" stroke-width="2.6"/><polygon points="1264.9,1151.8 1291.5,1142.5 1292.3,1158.5" fill="#000"/>
<line x1="1043.5" y1="1099.4" x2="1057.2" y2="1183.1" stroke="#000" stroke-width="2.6"/><polygon points="1061.2,1207.8 1049.0,1182.4 1064.7,1179.9" fill="#000"/>
<path d="M330,170.5 H432.4 M467,170.5 H1526 M1562,170.5 H1680" stroke="#000" stroke-width="3" fill="none"/>
<polygon points="325,170.5 352,162.5 352,178.5" fill="#000"/>
<polygon points="1241,170.5 1215,162.7 1215,178.3" fill="#000"/>
<polygon points="1257.3,170.5 1276.3,162.7 1276.3,178.3" fill="#000"/>
<polygon points="1692,170.5 1665,162.5 1665,178.5" fill="#000"/>
<line x1="434.4" y1="195.4" x2="448" y2="156" stroke="#000" stroke-width="2.8" stroke-linecap="butt"/>
<line x1="450.7" y1="195.4" x2="465.7" y2="156" stroke="#000" stroke-width="2.8" stroke-linecap="butt"/>
<line x1="1528.7" y1="189.8" x2="1541.8" y2="150.8" stroke="#000" stroke-width="2.8" stroke-linecap="butt"/>
<line x1="1545" y1="189.8" x2="1558" y2="150.8" stroke="#000" stroke-width="2.8" stroke-linecap="butt"/>
<g font-family="Liberation Sans, Arial, sans-serif" fill="#000">
<text transform="translate(619.6,81.7) scale(1,1.034)" x="0" y="0" font-size="68">Homogenization at 560<tspan font-size="41" dx="2.2" dy="-31.6">o</tspan><tspan dy="31.6" dx="-0.6">C</tspan></text>
<text x="283.5" y="1227.1" font-size="58" text-anchor="end">0.00</text>
<text x="283.5" y="1051.7" font-size="58" text-anchor="end">0.02</text>
<text x="283.5" y="876.4" font-size="58" text-anchor="end">0.04</text>
<text x="283.5" y="701.0" font-size="58" text-anchor="end">0.06</text>
<text x="283.5" y="525.6" font-size="58" text-anchor="end">0.08</text>
<text x="283.5" y="350.2" font-size="58" text-anchor="end">0.10</text>
<text x="283.5" y="174.9" font-size="58" text-anchor="end">0.12</text>
<text x="320.8" y="1299.4" font-size="58" text-anchor="middle">0</text>
<text x="425.6" y="1299.4" font-size="58" text-anchor="middle">5</text>
<text x="529.0" y="1299.4" font-size="58" text-anchor="middle">84</text>
<text x="648.4" y="1299.4" font-size="58" text-anchor="middle">85</text>
<text x="767.9" y="1299.4" font-size="58" text-anchor="middle">86</text>
<text x="887.3" y="1299.4" font-size="58" text-anchor="middle">87</text>
<text x="1006.8" y="1299.4" font-size="58" text-anchor="middle">88</text>
<text x="1126.2" y="1299.4" font-size="58" text-anchor="middle">89</text>
<text x="1245.6" y="1299.4" font-size="58" text-anchor="middle">90</text>
<text x="1365.1" y="1299.4" font-size="58" text-anchor="middle">91</text>
<text x="1484.5" y="1299.4" font-size="58" text-anchor="middle">92</text>
<text x="1589.3" y="1299.4" font-size="58" text-anchor="middle">105</text>
<text x="1694.5" y="1299.4" font-size="58" text-anchor="middle">110</text>
<text x="793.6" y="1410.9" font-size="68">Distance (μm)</text>
<text transform="translate(84.6,970.5) rotate(-90) scale(1,1.09)" font-size="68">Mole Percent of Mg<tspan font-size="41" dy="20">2</tspan><tspan dy="-20">Si</tspan></text>
<text x="389.9" y="707.8" font-size="49">t=0</text>
<text x="389.9" y="786" font-size="49">t=15 min</text>
<text x="389.9" y="871" font-size="49">t=30 min</text>
<text x="389.9" y="956.1" font-size="49">t=45 min</text>
<text x="389.9" y="1034.7" font-size="49">t=60 min</text>
<text x="389.9" y="1097" font-size="49">t=90 min</text>
<text x="1467.2" y="914.4" font-size="49">t=0</text>
<text x="1467.2" y="994.2" font-size="49">t=15 min</text>
<text x="1467.2" y="1079" font-size="49">t=30 min</text>
<text x="1467.2" y="1163" font-size="49">t=45 min</text>
<text x="1014.9" y="1105.4" font-size="49">t=4 h</text>
<text x="627.6" y="242.2" font-size="49" textLength="244.8" lengthAdjust="spacingAndGlyphs">90μm Grain</text>
<text x="1330.8" y="239.7" font-size="49" textLength="247.6" lengthAdjust="spacingAndGlyphs">20μm Grain</text>
</g>
</svg>
</body></html>
